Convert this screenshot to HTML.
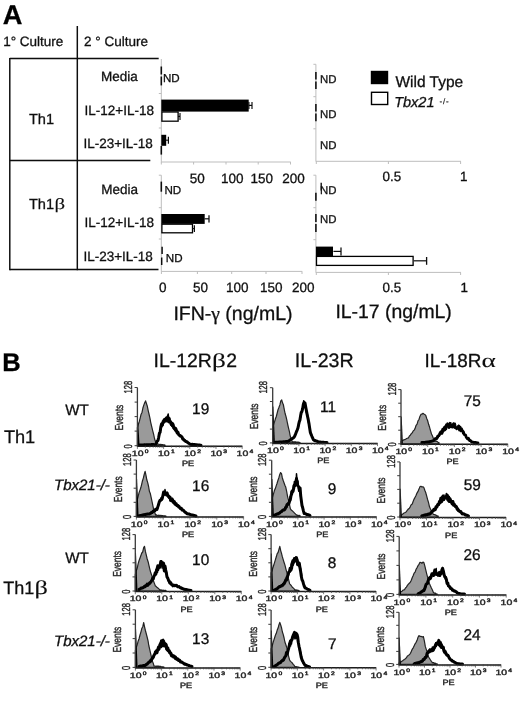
<!DOCTYPE html>
<html lang="en">
<head>
<meta charset="utf-8">
<title>Figure: Th1 and Th1β cytokine production and receptor expression</title>
<style>
html,body{margin:0;padding:0;background:#fff;}
body{width:520px;height:703px;overflow:hidden;}
svg{display:block;font-family:'Liberation Sans', sans-serif;}
.sm{letter-spacing:-0.2px;}
</style>
</head>
<body>
<svg width="520" height="703" viewBox="0 0 520 703" text-rendering="geometricPrecision">
<defs><filter id="soft" x="0" y="0" width="100%" height="100%" filterUnits="userSpaceOnUse"><feGaussianBlur stdDeviation="0.42"/></filter></defs>
<rect x="0" y="0" width="520" height="703" fill="#ffffff"/>
<g filter="url(#soft)">
<text x="2.8" y="24.3" font-size="27.2" fill="#000" stroke="#000" stroke-width="0.3" font-weight="bold">A</text>
<text x="3.2" y="46.0" font-size="13.5" fill="#111" stroke="#111" stroke-width="0.3" >1° Culture</text>
<text x="84.0" y="46.2" font-size="13.5" fill="#111" stroke="#111" stroke-width="0.3" >2 ° Culture</text>
<line x1="77.3" y1="26.0" x2="77.3" y2="270.2" stroke="#111" stroke-width="1.5" />
<line x1="9.8" y1="58.6" x2="158.7" y2="58.6" stroke="#111" stroke-width="1.5" />
<line x1="9.8" y1="58.0" x2="9.8" y2="270.2" stroke="#111" stroke-width="1.5" />
<line x1="9.8" y1="160.4" x2="150.3" y2="160.4" stroke="#111" stroke-width="1.5" />
<line x1="9.8" y1="269.6" x2="158.5" y2="269.6" stroke="#111" stroke-width="1.5" />
<text x="28.9" y="124.0" font-size="14.6" fill="#111" stroke="#111" stroke-width="0.3" >Th1</text>
<text x="28.9" y="209.3" font-size="14.6" fill="#111" stroke="#111" stroke-width="0.3" >Th1</text>
<text transform="translate(54.4,209.3) scale(1.35,1)" font-size="15.5" fill="#111" stroke="#111" stroke-width="0.1" font-family="'Liberation Serif', serif">β</text>
<text x="101.0" y="80.6" font-size="13.5" fill="#111" stroke="#111" stroke-width="0.3" >Media</text>
<text x="84.6" y="114.6" font-size="13.5" fill="#111" stroke="#111" stroke-width="0.3" >IL-12+IL-18</text>
<text x="83.4" y="148.2" font-size="13.5" fill="#111" stroke="#111" stroke-width="0.3" >IL-23+IL-18</text>
<text x="101.3" y="193.8" font-size="13.5" fill="#111" stroke="#111" stroke-width="0.3" >Media</text>
<text x="84.6" y="227.4" font-size="13.5" fill="#111" stroke="#111" stroke-width="0.3" >IL-12+IL-18</text>
<text x="83.4" y="261.4" font-size="13.5" fill="#111" stroke="#111" stroke-width="0.3" >IL-23+IL-18</text>
<line x1="161.3" y1="59.0" x2="161.3" y2="162.3" stroke="#bdbdbd" stroke-width="1" />
<line x1="161.3" y1="162.0" x2="290.8" y2="162.0" stroke="#bdbdbd" stroke-width="1" />
<line x1="161.3" y1="162.0" x2="161.3" y2="164.5" stroke="#bdbdbd" stroke-width="1" />
<line x1="193.6" y1="162.0" x2="193.6" y2="164.5" stroke="#bdbdbd" stroke-width="1" />
<line x1="226.0" y1="162.0" x2="226.0" y2="164.5" stroke="#bdbdbd" stroke-width="1" />
<line x1="258.2" y1="162.0" x2="258.2" y2="164.5" stroke="#bdbdbd" stroke-width="1" />
<line x1="290.5" y1="162.0" x2="290.5" y2="164.5" stroke="#bdbdbd" stroke-width="1" />
<line x1="158.8" y1="93.5" x2="161.3" y2="93.5" stroke="#bdbdbd" stroke-width="1" />
<line x1="158.8" y1="128.0" x2="161.3" y2="128.0" stroke="#bdbdbd" stroke-width="1" />
<line x1="161.3" y1="66.5" x2="161.3" y2="74.5" stroke="#111" stroke-width="1.6" />
<line x1="161.3" y1="76.5" x2="161.3" y2="85.4" stroke="#111" stroke-width="1.6" />
<text x="163.0" y="81.6" font-size="11.6" fill="#111" stroke="#111" stroke-width="0.3" >ND</text>
<rect x="161.3" y="99.6" width="87.4" height="12.0" fill="#000" stroke="none" stroke-width="0"/>
<line x1="248.7" y1="105.4" x2="252.0" y2="105.4" stroke="#111" stroke-width="1.2" />
<line x1="248.9" y1="102.0" x2="248.9" y2="109.0" stroke="#111" stroke-width="1.2" />
<line x1="252.0" y1="102.0" x2="252.0" y2="109.0" stroke="#111" stroke-width="1.2" />
<rect x="161.9" y="112.0" width="16.2" height="9.2" fill="#fff" stroke="#000" stroke-width="1.3"/>
<line x1="178.0" y1="116.4" x2="180.0" y2="116.4" stroke="#111" stroke-width="1.1" />
<line x1="180.0" y1="113.0" x2="180.0" y2="120.0" stroke="#111" stroke-width="1.2" />
<rect x="161.3" y="134.8" width="4.9" height="11.0" fill="#000" stroke="none" stroke-width="0"/>
<line x1="166.0" y1="140.2" x2="168.4" y2="140.2" stroke="#111" stroke-width="1.1" />
<line x1="168.4" y1="136.8" x2="168.4" y2="143.8" stroke="#111" stroke-width="1.2" />
<line x1="161.3" y1="146.0" x2="161.3" y2="154.6" stroke="#111" stroke-width="1.6" />
<text x="189.7" y="183.0" font-size="13.5" fill="#111" stroke="#111" stroke-width="0.3" >50</text>
<text x="221.1" y="183.0" font-size="13.5" fill="#111" stroke="#111" stroke-width="0.3" >100</text>
<text x="250.5" y="183.0" font-size="13.5" fill="#111" stroke="#111" stroke-width="0.3" >150</text>
<text x="282.3" y="183.0" font-size="13.5" fill="#111" stroke="#111" stroke-width="0.3" >200</text>
<line x1="161.3" y1="175.2" x2="161.3" y2="271.5" stroke="#bdbdbd" stroke-width="1" />
<line x1="161.3" y1="271.4" x2="302.2" y2="271.4" stroke="#bdbdbd" stroke-width="1" />
<line x1="161.4" y1="271.4" x2="161.4" y2="274.0" stroke="#bdbdbd" stroke-width="1" />
<line x1="197.4" y1="271.4" x2="197.4" y2="274.0" stroke="#bdbdbd" stroke-width="1" />
<line x1="231.7" y1="271.4" x2="231.7" y2="274.0" stroke="#bdbdbd" stroke-width="1" />
<line x1="266.0" y1="271.4" x2="266.0" y2="274.0" stroke="#bdbdbd" stroke-width="1" />
<line x1="302.0" y1="271.4" x2="302.0" y2="274.0" stroke="#bdbdbd" stroke-width="1" />
<line x1="158.8" y1="175.2" x2="161.3" y2="175.2" stroke="#bdbdbd" stroke-width="1" />
<line x1="158.8" y1="207.7" x2="161.3" y2="207.7" stroke="#bdbdbd" stroke-width="1" />
<line x1="158.8" y1="239.0" x2="161.3" y2="239.0" stroke="#bdbdbd" stroke-width="1" />
<line x1="161.3" y1="181.6" x2="161.3" y2="191.7" stroke="#111" stroke-width="1.6" />
<text x="164.4" y="194.3" font-size="11.6" fill="#111" stroke="#111" stroke-width="0.3" >ND</text>
<rect x="161.3" y="214.0" width="43.4" height="9.9" fill="#000" stroke="none" stroke-width="0"/>
<line x1="204.6" y1="218.8" x2="209.0" y2="218.8" stroke="#111" stroke-width="1.2" />
<line x1="209.0" y1="215.2" x2="209.0" y2="222.4" stroke="#111" stroke-width="1.3" />
<rect x="161.9" y="224.2" width="30.6" height="8.6" fill="#fff" stroke="#000" stroke-width="1.3"/>
<line x1="192.5" y1="228.6" x2="194.4" y2="228.6" stroke="#111" stroke-width="1.1" />
<line x1="194.4" y1="225.2" x2="194.4" y2="232.0" stroke="#111" stroke-width="1.2" />
<line x1="162.1" y1="246.8" x2="162.1" y2="254.0" stroke="#111" stroke-width="1.5" />
<line x1="161.7" y1="257.5" x2="161.7" y2="265.0" stroke="#111" stroke-width="1.5" />
<text x="165.8" y="261.7" font-size="11.6" fill="#111" stroke="#111" stroke-width="0.3" >ND</text>
<text x="158.9" y="292.4" font-size="13.5" fill="#111" stroke="#111" stroke-width="0.3" >0</text>
<text x="192.9" y="292.4" font-size="13.5" fill="#111" stroke="#111" stroke-width="0.3" >50</text>
<text x="225.9" y="292.4" font-size="13.5" fill="#111" stroke="#111" stroke-width="0.3" >100</text>
<text x="260.1" y="292.4" font-size="13.5" fill="#111" stroke="#111" stroke-width="0.3" >150</text>
<text x="292.1" y="292.4" font-size="13.5" fill="#111" stroke="#111" stroke-width="0.3" >200</text>
<text x="173.4" y="319.7" font-size="19.5" fill="#111" stroke="#111" stroke-width="0.3" >IFN-<tspan font-family='&quot;Liberation Serif&quot;, serif'>γ</tspan> (ng/mL)</text>
<line x1="315.9" y1="64.3" x2="315.9" y2="161.5" stroke="#bdbdbd" stroke-width="1" />
<line x1="313.4" y1="64.3" x2="315.9" y2="64.3" stroke="#bdbdbd" stroke-width="1" />
<line x1="315.9" y1="161.3" x2="461.0" y2="161.3" stroke="#bdbdbd" stroke-width="1" />
<line x1="316.3" y1="161.3" x2="316.3" y2="164.0" stroke="#bdbdbd" stroke-width="1" />
<line x1="388.4" y1="161.3" x2="388.4" y2="164.0" stroke="#bdbdbd" stroke-width="1" />
<line x1="460.6" y1="161.3" x2="460.6" y2="164.0" stroke="#bdbdbd" stroke-width="1" />
<line x1="313.4" y1="96.7" x2="315.9" y2="96.7" stroke="#bdbdbd" stroke-width="1" />
<line x1="313.4" y1="128.8" x2="315.9" y2="128.8" stroke="#bdbdbd" stroke-width="1" />
<line x1="315.9" y1="72.0" x2="315.9" y2="79.6" stroke="#111" stroke-width="1.6" />
<line x1="315.9" y1="81.4" x2="315.9" y2="89.0" stroke="#111" stroke-width="1.6" />
<text x="320.0" y="83.4" font-size="11.4" fill="#111" stroke="#111" stroke-width="0.3" >ND</text>
<line x1="315.9" y1="104.0" x2="315.9" y2="111.6" stroke="#111" stroke-width="1.6" />
<line x1="315.9" y1="113.6" x2="315.9" y2="121.2" stroke="#111" stroke-width="1.6" />
<text x="320.0" y="118.3" font-size="11.4" fill="#111" stroke="#111" stroke-width="0.3" >ND</text>
<text x="320.0" y="148.8" font-size="11.4" fill="#111" stroke="#111" stroke-width="0.3" >ND</text>
<text x="382.6" y="181.0" font-size="13.4" fill="#111" stroke="#111" stroke-width="0.3" >0.5</text>
<text x="460.0" y="181.0" font-size="13.4" fill="#111" stroke="#111" stroke-width="0.3" >1</text>
<rect x="370.8" y="70.8" width="17.4" height="13.4" fill="#000" stroke="none" stroke-width="0"/>
<rect x="371.5" y="92.3" width="16.2" height="12.2" fill="#fff" stroke="#000" stroke-width="1.4"/>
<text x="395.4" y="86.6" font-size="15.5" fill="#111" stroke="#111" stroke-width="0.3" >Wild Type</text>
<text x="394.2" y="106.8" font-size="14.5" fill="#111" stroke="#111" stroke-width="0.3" font-style="italic">Tbx21</text>
<text x="439.4" y="104.0" font-size="8" fill="#111" stroke="#111" stroke-width="0.15" letter-spacing="0.9">-/-</text>
<line x1="315.9" y1="175.2" x2="315.9" y2="272.6" stroke="#bdbdbd" stroke-width="1" />
<line x1="315.9" y1="272.4" x2="461.0" y2="272.4" stroke="#bdbdbd" stroke-width="1" />
<line x1="316.3" y1="272.4" x2="316.3" y2="275.0" stroke="#bdbdbd" stroke-width="1" />
<line x1="388.4" y1="272.4" x2="388.4" y2="275.0" stroke="#bdbdbd" stroke-width="1" />
<line x1="460.6" y1="272.4" x2="460.6" y2="275.0" stroke="#bdbdbd" stroke-width="1" />
<line x1="313.4" y1="175.2" x2="315.9" y2="175.2" stroke="#bdbdbd" stroke-width="1" />
<line x1="313.4" y1="207.7" x2="315.9" y2="207.7" stroke="#bdbdbd" stroke-width="1" />
<line x1="313.4" y1="239.7" x2="315.9" y2="239.7" stroke="#bdbdbd" stroke-width="1" />
<line x1="321.2" y1="182.8" x2="321.2" y2="190.4" stroke="#111" stroke-width="1.4" />
<line x1="315.9" y1="192.7" x2="315.9" y2="200.8" stroke="#111" stroke-width="1.6" />
<text x="320.0" y="194.1" font-size="11.4" fill="#111" stroke="#111" stroke-width="0.3" >ND</text>
<line x1="315.9" y1="214.0" x2="315.9" y2="222.0" stroke="#111" stroke-width="1.6" />
<line x1="315.9" y1="224.0" x2="315.9" y2="232.0" stroke="#111" stroke-width="1.6" />
<text x="320.0" y="222.8" font-size="11.4" fill="#111" stroke="#111" stroke-width="0.3" >ND</text>
<rect x="315.9" y="246.6" width="17.1" height="9.4" fill="#000" stroke="none" stroke-width="0"/>
<line x1="333.4" y1="251.4" x2="341.0" y2="251.4" stroke="#111" stroke-width="1.2" />
<line x1="341.0" y1="247.6" x2="341.0" y2="255.6" stroke="#111" stroke-width="1.3" />
<rect x="316.5" y="256.4" width="96.6" height="9.0" fill="#fff" stroke="#000" stroke-width="1.3"/>
<line x1="413.5" y1="260.8" x2="426.6" y2="260.8" stroke="#111" stroke-width="1.2" />
<line x1="426.6" y1="257.0" x2="426.6" y2="264.8" stroke="#111" stroke-width="1.3" />
<text x="382.6" y="292.2" font-size="13.4" fill="#111" stroke="#111" stroke-width="0.3" >0.5</text>
<text x="460.6" y="292.2" font-size="13.4" fill="#111" stroke="#111" stroke-width="0.3" >1</text>
<text x="335.4" y="318.4" font-size="19.4" fill="#111" stroke="#111" stroke-width="0.3" >IL-17 (ng/mL)</text>
<text x="2.2" y="371.2" font-size="25.5" fill="#000" stroke="#000" stroke-width="0.3" font-weight="bold">B</text>
<text x="153.5" y="367.3" font-size="19.4" fill="#111" stroke="#111" stroke-width="0.3" >IL-12R</text>
<text transform="translate(212.0,367.3) scale(1.4,1)" font-size="19.5" fill="#111" stroke="#111" stroke-width="0.1" font-family="'Liberation Serif', serif">β</text>
<text x="226.2" y="367.3" font-size="19.4" fill="#111" stroke="#111" stroke-width="0.3" >2</text>
<text x="294.8" y="367.0" font-size="19.6" fill="#111" stroke="#111" stroke-width="0.3" >IL-23R</text>
<text x="424.6" y="366.6" font-size="18.9" fill="#111" stroke="#111" stroke-width="0.3" >IL-18R</text>
<text transform="translate(481.5,366.6) scale(1.4,1)" font-size="19.5" fill="#111" stroke="#111" stroke-width="0.1" font-family="'Liberation Serif', serif">α</text>
<text x="3.9" y="443.0" font-size="18.2" fill="#111" stroke="#111" stroke-width="0.3" >Th1</text>
<text x="3.3" y="593.8" font-size="18.0" fill="#111" stroke="#111" stroke-width="0.3" >Th1</text>
<text transform="translate(34.6,593.8) scale(1.35,1)" font-size="19.5" fill="#111" stroke="#111" stroke-width="0.1" font-family="'Liberation Serif', serif">β</text>
<text x="65.2" y="415.0" font-size="15.2" fill="#111" stroke="#111" stroke-width="0.3" >WT</text>
<text x="65.2" y="563.0" font-size="15.2" fill="#111" stroke="#111" stroke-width="0.3" >WT</text>
<text x="54.0" y="490.0" font-size="15" fill="#111" stroke="#111" stroke-width="0.3" font-style="italic">Tbx21-/-</text>
<text x="54.0" y="646.0" font-size="15" fill="#111" stroke="#111" stroke-width="0.3" font-style="italic">Tbx21-/-</text>
<path d="M137.4,445.7 L137.4,427.6 L138.3,424.5 L139.2,421.9 L140.1,418.3 L141.0,414.6 L142.0,412.4 L142.9,408.0 L143.8,405.1 L144.7,402.8 L145.6,400.9 L146.5,403.7 L147.3,406.1 L148.2,410.6 L149.0,414.0 L149.9,417.8 L150.7,422.3 L151.6,426.1 L152.6,430.3 L153.6,434.2 L154.6,439.0 L155.5,441.5 L156.4,443.8 L157.3,443.8 L158.1,444.2 L159.0,444.3 L159.8,444.6 L160.7,444.3 L161.6,444.6 L162.4,444.7 L163.3,444.9 L164.1,444.8 L165.0,445.0 L165.0,445.7 Z" fill="#9a9a9a" stroke="#222" stroke-width="1.2" stroke-linejoin="round"/>
<path d="M140.0,444.9 L140.7,445.0 L141.4,445.0 L142.1,445.0 L142.8,444.9 L143.5,444.9 L144.2,444.8 L144.9,444.8 L145.6,444.9 L146.3,444.8 L147.0,444.8 L147.7,444.8 L148.4,444.7 L149.1,444.8 L149.8,444.7 L150.5,444.8 L151.2,444.6 L151.9,444.7 L152.6,444.6 L153.3,444.6 L154.0,444.7 L154.7,444.7 L155.4,444.6 L156.1,443.6 L156.7,442.1 L157.3,441.1 L158.0,440.4 L158.7,437.2 L159.4,433.2 L160.1,432.3 L160.8,427.1 L161.5,424.1 L162.2,425.3 L162.9,422.7 L163.6,421.8 L164.3,420.0 L165.0,419.2 L165.7,420.5 L166.3,418.1 L167.0,418.9 L167.7,417.0 L168.5,418.5 L169.2,422.0 L170.0,420.9 L170.8,422.5 L171.5,424.8 L172.3,423.3 L173.0,424.3 L173.7,428.0 L174.4,428.7 L175.2,428.0 L175.9,428.9 L176.6,431.5 L177.3,433.0 L178.0,432.3 L178.7,434.7 L179.3,435.3 L180.0,435.5 L180.7,436.0 L181.3,436.3 L182.0,437.0 L182.7,439.0 L183.3,438.9 L184.0,440.2 L184.7,440.2 L185.3,441.2 L186.0,441.5 L186.7,441.7 L187.3,442.1 L188.0,442.9 L188.7,443.1 L189.3,443.6 L190.0,444.2 L190.7,444.4 L191.4,444.4 L192.1,444.3 L192.8,444.5 L193.4,444.4 L194.1,444.5 L194.8,444.6 L195.5,444.7 L196.2,444.7 L196.9,444.8 L197.6,444.9 L198.2,445.0 L198.9,445.0 L199.6,445.1 L200.3,445.2 L201.0,445.2" fill="none" stroke="#000" stroke-width="3.0" stroke-linejoin="round" stroke-linecap="round"/>
<path d="M140.0,445.0 L140.5,445.0 L141.0,445.0 L141.5,444.9 L142.0,444.8 L142.5,444.8 L143.0,445.0 L143.5,445.0 L144.0,445.0 L144.5,444.8 L145.0,444.9 L145.5,444.9 L146.0,444.9 L146.5,444.8 L147.0,445.0 L147.5,444.7 L147.9,444.8 L148.4,444.9 L148.9,444.9 L149.4,444.8 L149.9,444.8 L150.4,444.8 L150.9,444.8 L151.4,444.7 L151.9,444.8 L152.4,444.8 L152.9,444.8 L153.4,444.6 L153.9,444.7 L154.4,444.8 L154.9,444.6 L155.4,444.6 L155.9,443.6 L156.4,442.8 L157.0,442.0 L157.5,440.3 L158.0,440.3 L158.5,439.1 L159.0,436.9 L159.5,434.5 L160.0,430.9 L160.5,430.5 L161.0,427.6 L161.5,424.6 L162.0,426.7 L162.5,420.9 L163.0,425.1 L163.5,419.3 L164.0,422.9 L164.5,421.4 L165.0,418.9 L165.5,421.9 L166.1,419.6 L166.6,419.9 L167.2,422.0 L167.7,415.4 L168.2,414.0 L168.6,417.3 L169.1,421.1 L169.5,417.9 L170.0,418.4 L170.5,424.8 L170.9,423.6 L171.4,422.7 L171.8,426.5 L172.3,423.3 L172.8,426.4 L173.3,424.1 L173.9,426.4 L174.4,429.4 L174.9,430.7 L175.4,431.2 L175.9,429.3 L176.4,431.1 L177.0,430.6 L177.5,430.7 L178.0,433.0 L178.5,434.9 L179.0,435.5 L179.5,435.5 L180.0,436.8 L180.5,435.2 L181.0,435.5 L181.5,436.9 L182.0,437.1 L182.5,437.6 L183.0,438.6 L183.5,439.7 L184.0,440.0 L184.5,440.0 L185.0,441.2 L185.5,441.8 L186.0,441.3 L186.5,441.2 L187.0,441.6 L187.5,442.8 L188.0,442.4 L188.5,443.3 L189.0,443.5 L189.5,443.7 L190.0,444.3 L190.5,444.0 L191.0,444.1 L191.5,444.3 L192.0,444.2 L192.5,444.6 L193.0,444.4 L193.5,444.4 L194.0,444.4 L194.5,444.7 L195.0,444.6 L195.5,444.7 L196.0,444.8 L196.5,444.9 L197.0,445.0 L197.5,444.9 L198.0,444.9 L198.5,445.0 L199.0,444.9 L199.5,445.0 L200.0,445.1 L200.5,445.2 L201.0,445.1" fill="none" stroke="#000" stroke-width="1.5" stroke-linejoin="round" stroke-linecap="round"/>
<path d="M137.2,421.5 L138.1,421.5 L139.6,445.7 L137.2,445.7 Z" fill="#000"/>
<line x1="137.4" y1="387.5" x2="137.4" y2="446.3" stroke="#3a3a3a" stroke-width="1.3" />
<line x1="136.9" y1="446.2" x2="242.2" y2="446.2" stroke="#1c1c1c" stroke-width="1.5" />
<line x1="134.6" y1="387.5" x2="137.4" y2="387.5" stroke="#3a3a3a" stroke-width="1.0" />
<line x1="134.6" y1="402.1" x2="137.4" y2="402.1" stroke="#3a3a3a" stroke-width="1.0" />
<line x1="134.6" y1="416.6" x2="137.4" y2="416.6" stroke="#3a3a3a" stroke-width="1.0" />
<line x1="134.6" y1="431.1" x2="137.4" y2="431.1" stroke="#3a3a3a" stroke-width="1.0" />
<line x1="134.6" y1="445.7" x2="137.4" y2="445.7" stroke="#3a3a3a" stroke-width="1.0" />
<line x1="137.4" y1="445.7" x2="137.4" y2="448.9" stroke="#444" stroke-width="0.7" />
<line x1="145.3" y1="445.7" x2="145.3" y2="447.7" stroke="#444" stroke-width="0.7" />
<line x1="149.9" y1="445.7" x2="149.9" y2="447.7" stroke="#444" stroke-width="0.7" />
<line x1="153.2" y1="445.7" x2="153.2" y2="447.7" stroke="#444" stroke-width="0.7" />
<line x1="155.7" y1="445.7" x2="155.7" y2="447.7" stroke="#444" stroke-width="0.7" />
<line x1="157.8" y1="445.7" x2="157.8" y2="447.7" stroke="#444" stroke-width="0.7" />
<line x1="159.5" y1="445.7" x2="159.5" y2="447.7" stroke="#444" stroke-width="0.7" />
<line x1="161.1" y1="445.7" x2="161.1" y2="447.7" stroke="#444" stroke-width="0.7" />
<line x1="162.4" y1="445.7" x2="162.4" y2="447.7" stroke="#444" stroke-width="0.7" />
<line x1="163.6" y1="445.7" x2="163.6" y2="448.9" stroke="#444" stroke-width="0.7" />
<line x1="171.5" y1="445.7" x2="171.5" y2="447.7" stroke="#444" stroke-width="0.7" />
<line x1="176.1" y1="445.7" x2="176.1" y2="447.7" stroke="#444" stroke-width="0.7" />
<line x1="179.4" y1="445.7" x2="179.4" y2="447.7" stroke="#444" stroke-width="0.7" />
<line x1="181.9" y1="445.7" x2="181.9" y2="447.7" stroke="#444" stroke-width="0.7" />
<line x1="184.0" y1="445.7" x2="184.0" y2="447.7" stroke="#444" stroke-width="0.7" />
<line x1="185.7" y1="445.7" x2="185.7" y2="447.7" stroke="#444" stroke-width="0.7" />
<line x1="187.3" y1="445.7" x2="187.3" y2="447.7" stroke="#444" stroke-width="0.7" />
<line x1="188.6" y1="445.7" x2="188.6" y2="447.7" stroke="#444" stroke-width="0.7" />
<line x1="189.8" y1="445.7" x2="189.8" y2="448.9" stroke="#444" stroke-width="0.7" />
<line x1="197.7" y1="445.7" x2="197.7" y2="447.7" stroke="#444" stroke-width="0.7" />
<line x1="202.3" y1="445.7" x2="202.3" y2="447.7" stroke="#444" stroke-width="0.7" />
<line x1="205.6" y1="445.7" x2="205.6" y2="447.7" stroke="#444" stroke-width="0.7" />
<line x1="208.1" y1="445.7" x2="208.1" y2="447.7" stroke="#444" stroke-width="0.7" />
<line x1="210.2" y1="445.7" x2="210.2" y2="447.7" stroke="#444" stroke-width="0.7" />
<line x1="211.9" y1="445.7" x2="211.9" y2="447.7" stroke="#444" stroke-width="0.7" />
<line x1="213.5" y1="445.7" x2="213.5" y2="447.7" stroke="#444" stroke-width="0.7" />
<line x1="214.8" y1="445.7" x2="214.8" y2="447.7" stroke="#444" stroke-width="0.7" />
<line x1="216.0" y1="445.7" x2="216.0" y2="448.9" stroke="#444" stroke-width="0.7" />
<line x1="223.9" y1="445.7" x2="223.9" y2="447.7" stroke="#444" stroke-width="0.7" />
<line x1="228.5" y1="445.7" x2="228.5" y2="447.7" stroke="#444" stroke-width="0.7" />
<line x1="231.8" y1="445.7" x2="231.8" y2="447.7" stroke="#444" stroke-width="0.7" />
<line x1="234.3" y1="445.7" x2="234.3" y2="447.7" stroke="#444" stroke-width="0.7" />
<line x1="236.4" y1="445.7" x2="236.4" y2="447.7" stroke="#444" stroke-width="0.7" />
<line x1="238.1" y1="445.7" x2="238.1" y2="447.7" stroke="#444" stroke-width="0.7" />
<line x1="239.7" y1="445.7" x2="239.7" y2="447.7" stroke="#444" stroke-width="0.7" />
<line x1="241.0" y1="445.7" x2="241.0" y2="447.7" stroke="#444" stroke-width="0.7" />
<line x1="242.2" y1="445.7" x2="242.2" y2="448.9" stroke="#444" stroke-width="0.7" />
<text transform="translate(131.8,455.9) scale(1.35,1)" font-size="7.8" fill="#262626" stroke="#262626" stroke-width="0.4">10<tspan dx="0.9" dy="-2.7" font-size="5.0">0</tspan></text>
<text transform="translate(158.0,455.9) scale(1.35,1)" font-size="7.8" fill="#262626" stroke="#262626" stroke-width="0.4">10<tspan dx="0.9" dy="-2.7" font-size="5.0">1</tspan></text>
<text transform="translate(184.2,455.9) scale(1.35,1)" font-size="7.8" fill="#262626" stroke="#262626" stroke-width="0.4">10<tspan dx="0.9" dy="-2.7" font-size="5.0">2</tspan></text>
<text transform="translate(210.4,455.9) scale(1.35,1)" font-size="7.8" fill="#262626" stroke="#262626" stroke-width="0.4">10<tspan dx="0.9" dy="-2.7" font-size="5.0">3</tspan></text>
<text transform="translate(236.6,455.9) scale(1.35,1)" font-size="7.8" fill="#262626" stroke="#262626" stroke-width="0.4">10<tspan dx="0.9" dy="-2.7" font-size="5.0">4</tspan></text>
<text transform="translate(181.9,466.2) scale(1.2,1)" font-size="7.6" fill="#262626" stroke="#262626" stroke-width="0.4">PE</text>
<text transform="translate(132.1,393.4) rotate(-90) scale(0.66,1)" font-size="11.5" fill="#262626" stroke="#262626" stroke-width="0.4">128</text>
<text transform="translate(132.1,448.4) rotate(-90) scale(0.66,1)" font-size="11.5" fill="#262626" stroke="#262626" stroke-width="0.4">0</text>
<text transform="translate(122.8,430.6) rotate(-90) scale(0.73,1)" font-size="11.6" fill="#262626" stroke="#262626" stroke-width="0.4">Events</text>
<text x="192.1" y="413.9" font-size="15.4" fill="#111" stroke="#111" stroke-width="0.3" >19</text>
<path d="M136.4,516.4 L136.4,502.7 L137.3,499.7 L138.1,496.6 L139.0,492.9 L139.9,490.4 L140.8,487.8 L141.6,484.6 L142.5,480.7 L143.4,477.9 L144.2,474.5 L145.1,471.4 L146.0,475.4 L146.8,479.8 L147.7,482.6 L148.6,486.5 L149.4,491.3 L150.3,493.5 L151.2,497.6 L152.1,501.9 L152.9,505.8 L153.8,510.1 L154.7,512.4 L155.6,515.0 L156.5,514.8 L157.3,515.5 L158.2,515.4 L159.1,515.2 L159.9,515.5 L160.8,515.3 L161.7,515.6 L162.5,515.7 L163.4,515.9 L164.3,515.8 L165.1,515.9 L166.0,516.0 L166.0,516.4 Z" fill="#9a9a9a" stroke="#222" stroke-width="1.2" stroke-linejoin="round"/>
<path d="M139.0,515.8 L139.7,515.7 L140.4,515.5 L141.1,515.4 L141.8,515.2 L142.4,515.2 L143.1,514.8 L143.8,514.8 L144.5,514.6 L145.2,514.6 L145.9,514.2 L146.6,514.3 L147.2,514.0 L147.9,513.9 L148.6,513.9 L149.3,514.0 L150.0,513.6 L150.7,513.4 L151.4,512.4 L152.1,512.6 L152.8,511.6 L153.5,511.0 L154.2,511.1 L154.9,510.9 L155.6,509.3 L156.3,509.1 L157.0,509.4 L157.8,506.9 L158.5,504.8 L159.2,502.2 L160.0,500.3 L160.8,500.2 L161.5,499.8 L162.2,498.7 L162.9,495.5 L163.6,492.0 L164.3,492.0 L165.0,493.0 L165.7,494.1 L166.4,494.1 L167.1,493.1 L167.9,495.4 L168.6,496.1 L169.3,497.6 L170.0,497.1 L170.7,500.3 L171.4,500.8 L172.1,499.0 L172.8,500.2 L173.5,502.7 L174.2,501.6 L174.9,504.2 L175.6,503.7 L176.3,504.9 L177.0,505.6 L177.7,505.2 L178.4,506.0 L179.1,506.5 L179.8,507.9 L180.6,508.5 L181.3,508.2 L182.0,509.9 L182.7,509.8 L183.4,510.2 L184.1,511.1 L184.9,512.2 L185.6,512.4 L186.3,513.0 L187.0,513.7 L187.7,513.9 L188.4,514.0 L189.1,514.0 L189.8,514.3 L190.5,514.6 L191.2,514.8 L191.8,514.9 L192.5,515.0 L193.2,515.2 L193.9,515.5 L194.6,515.6 L195.3,515.8 L196.0,516.0" fill="none" stroke="#000" stroke-width="3.0" stroke-linejoin="round" stroke-linecap="round"/>
<path d="M139.0,515.9 L139.5,515.8 L140.0,515.7 L140.5,515.6 L141.0,515.4 L141.5,515.4 L142.0,515.2 L142.5,514.9 L143.0,514.9 L143.5,514.8 L144.0,515.0 L144.5,514.8 L145.0,514.6 L145.5,514.6 L146.0,514.2 L146.5,514.3 L147.0,514.3 L147.5,514.0 L148.0,513.8 L148.5,513.8 L149.0,513.7 L149.5,513.9 L150.0,513.3 L150.5,512.9 L151.0,512.7 L151.5,512.9 L152.0,512.6 L152.5,512.2 L153.0,512.3 L153.5,511.1 L154.0,510.2 L154.5,510.6 L155.0,510.2 L155.5,509.3 L156.0,510.0 L156.5,509.0 L157.0,508.4 L157.5,507.3 L158.0,508.0 L158.5,503.6 L159.0,503.6 L159.5,501.9 L160.0,500.3 L160.5,500.1 L161.0,497.7 L161.5,500.5 L162.0,497.1 L162.5,497.5 L163.0,493.0 L163.5,494.1 L164.0,494.2 L164.5,495.1 L165.0,489.6 L165.5,491.9 L166.0,495.6 L166.5,495.9 L167.0,492.2 L167.5,495.1 L168.0,497.2 L168.5,495.4 L169.0,497.8 L169.5,498.4 L170.0,500.8 L170.5,498.8 L171.0,500.0 L171.5,498.8 L172.1,501.3 L172.6,499.7 L173.1,501.1 L173.6,501.0 L174.1,501.3 L174.6,501.1 L175.1,502.0 L175.6,503.9 L176.2,503.3 L176.7,503.1 L177.2,506.4 L177.7,505.1 L178.2,507.6 L178.7,506.9 L179.2,506.7 L179.7,508.5 L180.1,508.9 L180.6,507.8 L181.1,507.7 L181.6,509.4 L182.1,510.2 L182.6,510.1 L183.1,510.8 L183.6,510.5 L184.1,511.3 L184.6,511.1 L185.0,511.7 L185.5,512.1 L186.0,512.6 L186.5,513.0 L187.0,513.8 L187.5,513.3 L188.0,513.5 L188.5,513.7 L189.0,514.4 L189.5,514.2 L190.0,514.0 L190.5,514.7 L191.0,514.8 L191.5,514.9 L192.0,514.8 L192.5,515.1 L193.0,515.1 L193.5,515.2 L194.0,515.6 L194.5,515.7 L195.0,515.7 L195.5,515.9 L196.0,515.9" fill="none" stroke="#000" stroke-width="1.5" stroke-linejoin="round" stroke-linecap="round"/>
<path d="M136.2,479.0 L137.1,479.0 L138.6,516.4 L136.2,516.4 Z" fill="#000"/>
<line x1="136.4" y1="460.0" x2="136.4" y2="517.0" stroke="#3a3a3a" stroke-width="1.3" />
<line x1="135.9" y1="516.9" x2="243.6" y2="516.9" stroke="#1c1c1c" stroke-width="1.5" />
<line x1="133.6" y1="460.0" x2="136.4" y2="460.0" stroke="#3a3a3a" stroke-width="1.0" />
<line x1="133.6" y1="474.1" x2="136.4" y2="474.1" stroke="#3a3a3a" stroke-width="1.0" />
<line x1="133.6" y1="488.2" x2="136.4" y2="488.2" stroke="#3a3a3a" stroke-width="1.0" />
<line x1="133.6" y1="502.3" x2="136.4" y2="502.3" stroke="#3a3a3a" stroke-width="1.0" />
<line x1="133.6" y1="516.4" x2="136.4" y2="516.4" stroke="#3a3a3a" stroke-width="1.0" />
<line x1="136.4" y1="516.4" x2="136.4" y2="519.6" stroke="#444" stroke-width="0.7" />
<line x1="144.5" y1="516.4" x2="144.5" y2="518.4" stroke="#444" stroke-width="0.7" />
<line x1="149.2" y1="516.4" x2="149.2" y2="518.4" stroke="#444" stroke-width="0.7" />
<line x1="152.5" y1="516.4" x2="152.5" y2="518.4" stroke="#444" stroke-width="0.7" />
<line x1="155.1" y1="516.4" x2="155.1" y2="518.4" stroke="#444" stroke-width="0.7" />
<line x1="157.3" y1="516.4" x2="157.3" y2="518.4" stroke="#444" stroke-width="0.7" />
<line x1="159.0" y1="516.4" x2="159.0" y2="518.4" stroke="#444" stroke-width="0.7" />
<line x1="160.6" y1="516.4" x2="160.6" y2="518.4" stroke="#444" stroke-width="0.7" />
<line x1="162.0" y1="516.4" x2="162.0" y2="518.4" stroke="#444" stroke-width="0.7" />
<line x1="163.2" y1="516.4" x2="163.2" y2="519.6" stroke="#444" stroke-width="0.7" />
<line x1="171.3" y1="516.4" x2="171.3" y2="518.4" stroke="#444" stroke-width="0.7" />
<line x1="176.0" y1="516.4" x2="176.0" y2="518.4" stroke="#444" stroke-width="0.7" />
<line x1="179.3" y1="516.4" x2="179.3" y2="518.4" stroke="#444" stroke-width="0.7" />
<line x1="181.9" y1="516.4" x2="181.9" y2="518.4" stroke="#444" stroke-width="0.7" />
<line x1="184.1" y1="516.4" x2="184.1" y2="518.4" stroke="#444" stroke-width="0.7" />
<line x1="185.8" y1="516.4" x2="185.8" y2="518.4" stroke="#444" stroke-width="0.7" />
<line x1="187.4" y1="516.4" x2="187.4" y2="518.4" stroke="#444" stroke-width="0.7" />
<line x1="188.8" y1="516.4" x2="188.8" y2="518.4" stroke="#444" stroke-width="0.7" />
<line x1="190.0" y1="516.4" x2="190.0" y2="519.6" stroke="#444" stroke-width="0.7" />
<line x1="198.1" y1="516.4" x2="198.1" y2="518.4" stroke="#444" stroke-width="0.7" />
<line x1="202.8" y1="516.4" x2="202.8" y2="518.4" stroke="#444" stroke-width="0.7" />
<line x1="206.1" y1="516.4" x2="206.1" y2="518.4" stroke="#444" stroke-width="0.7" />
<line x1="208.7" y1="516.4" x2="208.7" y2="518.4" stroke="#444" stroke-width="0.7" />
<line x1="210.9" y1="516.4" x2="210.9" y2="518.4" stroke="#444" stroke-width="0.7" />
<line x1="212.6" y1="516.4" x2="212.6" y2="518.4" stroke="#444" stroke-width="0.7" />
<line x1="214.2" y1="516.4" x2="214.2" y2="518.4" stroke="#444" stroke-width="0.7" />
<line x1="215.6" y1="516.4" x2="215.6" y2="518.4" stroke="#444" stroke-width="0.7" />
<line x1="216.8" y1="516.4" x2="216.8" y2="519.6" stroke="#444" stroke-width="0.7" />
<line x1="224.9" y1="516.4" x2="224.9" y2="518.4" stroke="#444" stroke-width="0.7" />
<line x1="229.6" y1="516.4" x2="229.6" y2="518.4" stroke="#444" stroke-width="0.7" />
<line x1="232.9" y1="516.4" x2="232.9" y2="518.4" stroke="#444" stroke-width="0.7" />
<line x1="235.5" y1="516.4" x2="235.5" y2="518.4" stroke="#444" stroke-width="0.7" />
<line x1="237.7" y1="516.4" x2="237.7" y2="518.4" stroke="#444" stroke-width="0.7" />
<line x1="239.4" y1="516.4" x2="239.4" y2="518.4" stroke="#444" stroke-width="0.7" />
<line x1="241.0" y1="516.4" x2="241.0" y2="518.4" stroke="#444" stroke-width="0.7" />
<line x1="242.4" y1="516.4" x2="242.4" y2="518.4" stroke="#444" stroke-width="0.7" />
<line x1="243.6" y1="516.4" x2="243.6" y2="519.6" stroke="#444" stroke-width="0.7" />
<text transform="translate(130.8,526.6) scale(1.35,1)" font-size="7.8" fill="#262626" stroke="#262626" stroke-width="0.4">10<tspan dx="0.9" dy="-2.7" font-size="5.0">0</tspan></text>
<text transform="translate(157.6,526.6) scale(1.35,1)" font-size="7.8" fill="#262626" stroke="#262626" stroke-width="0.4">10<tspan dx="0.9" dy="-2.7" font-size="5.0">1</tspan></text>
<text transform="translate(184.4,526.6) scale(1.35,1)" font-size="7.8" fill="#262626" stroke="#262626" stroke-width="0.4">10<tspan dx="0.9" dy="-2.7" font-size="5.0">2</tspan></text>
<text transform="translate(211.2,526.6) scale(1.35,1)" font-size="7.8" fill="#262626" stroke="#262626" stroke-width="0.4">10<tspan dx="0.9" dy="-2.7" font-size="5.0">3</tspan></text>
<text transform="translate(238.0,526.6) scale(1.35,1)" font-size="7.8" fill="#262626" stroke="#262626" stroke-width="0.4">10<tspan dx="0.9" dy="-2.7" font-size="5.0">4</tspan></text>
<text transform="translate(182.0,536.9) scale(1.2,1)" font-size="7.6" fill="#262626" stroke="#262626" stroke-width="0.4">PE</text>
<text transform="translate(131.1,465.9) rotate(-90) scale(0.66,1)" font-size="11.5" fill="#262626" stroke="#262626" stroke-width="0.4">128</text>
<text transform="translate(131.1,519.1) rotate(-90) scale(0.66,1)" font-size="11.5" fill="#262626" stroke="#262626" stroke-width="0.4">0</text>
<text transform="translate(121.8,502.2) rotate(-90) scale(0.73,1)" font-size="11.6" fill="#262626" stroke="#262626" stroke-width="0.4">Events</text>
<text x="192.1" y="491.3" font-size="15.4" fill="#111" stroke="#111" stroke-width="0.3" >16</text>
<path d="M135.3,591.0 L135.3,574.6 L136.2,571.1 L137.2,568.3 L138.1,563.9 L139.1,560.5 L140.0,558.0 L140.9,555.5 L141.8,553.0 L142.7,552.0 L143.6,547.9 L144.5,546.3 L145.4,551.4 L146.3,555.1 L147.2,559.0 L148.1,561.7 L149.0,565.7 L149.9,569.3 L150.8,572.8 L151.7,575.2 L152.6,578.6 L153.6,581.2 L154.5,583.6 L155.4,586.0 L156.3,586.6 L157.2,587.6 L158.2,588.3 L159.1,589.1 L160.0,590.0 L160.9,589.9 L161.7,590.0 L162.6,590.3 L163.4,590.2 L164.3,590.6 L165.1,590.2 L166.0,590.5 L166.0,591.0 Z" fill="#9a9a9a" stroke="#222" stroke-width="1.2" stroke-linejoin="round"/>
<path d="M139.0,589.5 L139.7,589.2 L140.4,588.8 L141.1,588.1 L141.7,588.0 L142.4,588.0 L143.1,587.7 L143.8,587.3 L144.5,586.2 L145.2,586.6 L145.9,585.5 L146.6,585.6 L147.2,584.1 L147.9,585.2 L148.6,584.1 L149.3,583.9 L150.0,582.4 L150.7,582.3 L151.3,581.2 L152.0,580.3 L152.6,578.5 L153.3,578.8 L153.9,576.4 L154.6,575.1 L155.2,572.9 L155.9,573.9 L156.6,569.4 L157.2,568.4 L157.8,565.8 L158.5,568.0 L159.2,566.6 L160.0,565.8 L160.8,561.4 L161.5,563.5 L162.2,563.8 L162.9,562.9 L163.6,563.3 L164.3,570.9 L165.0,566.1 L165.7,570.1 L166.3,572.8 L167.0,577.0 L167.7,577.9 L168.5,580.3 L169.2,581.1 L170.0,583.3 L170.7,582.6 L171.5,584.4 L172.2,584.9 L172.9,585.8 L173.6,585.2 L174.3,585.3 L174.9,585.8 L175.6,585.4 L176.3,585.2 L177.0,586.0 L177.7,586.8 L178.4,586.8 L179.1,586.6 L179.7,587.4 L180.4,587.9 L181.1,587.7 L181.8,588.3 L182.4,588.5 L183.1,588.8 L183.8,589.2 L184.5,589.3 L185.2,589.5 L186.0,589.5 L186.7,589.7 L187.4,589.8 L188.1,590.1 L188.8,590.2 L189.6,590.2 L190.3,590.4 L191.0,590.5" fill="none" stroke="#000" stroke-width="3.0" stroke-linejoin="round" stroke-linecap="round"/>
<path d="M139.0,589.4 L139.5,589.2 L140.0,588.8 L140.4,588.5 L140.9,588.4 L141.4,587.9 L141.9,588.3 L142.4,587.3 L142.8,587.8 L143.3,586.9 L143.8,586.7 L144.3,586.5 L144.8,585.6 L145.4,585.4 L145.9,585.4 L146.4,585.2 L146.9,585.7 L147.4,585.7 L147.9,583.4 L148.4,584.1 L149.0,582.8 L149.5,584.1 L150.0,582.5 L150.5,583.3 L151.0,581.6 L151.5,579.4 L152.0,578.1 L152.6,578.2 L153.1,579.8 L153.6,576.0 L154.1,576.7 L154.6,575.4 L155.1,574.1 L155.6,575.4 L156.1,570.9 L156.6,572.9 L157.0,571.5 L157.5,572.3 L158.0,568.3 L158.5,570.2 L159.0,566.0 L159.5,566.6 L160.0,566.5 L160.5,567.8 L161.0,567.9 L161.5,560.7 L162.0,561.6 L162.5,565.6 L163.0,568.4 L163.5,566.8 L164.0,565.7 L164.5,571.3 L165.0,567.0 L165.5,568.0 L166.1,570.2 L166.6,572.6 L167.2,578.1 L167.7,577.8 L168.2,580.7 L168.6,581.9 L169.1,582.9 L169.6,582.9 L170.1,582.5 L170.6,583.6 L171.0,584.8 L171.5,585.1 L172.0,584.4 L172.5,585.5 L173.1,584.3 L173.6,584.8 L174.1,586.2 L174.6,585.4 L175.1,585.2 L175.6,586.2 L176.1,585.7 L176.7,585.1 L177.2,585.3 L177.7,585.8 L178.2,586.2 L178.7,587.3 L179.2,586.6 L179.7,587.7 L180.2,587.9 L180.8,587.7 L181.3,588.5 L181.8,588.5 L182.3,588.5 L182.8,588.6 L183.3,589.0 L183.8,589.5 L184.3,589.4 L184.8,589.3 L185.3,589.5 L185.9,589.6 L186.4,589.6 L186.9,589.8 L187.4,589.7 L187.9,590.1 L188.4,590.0 L188.9,590.1 L189.5,590.3 L190.0,590.3 L190.5,590.5 L191.0,590.5" fill="none" stroke="#000" stroke-width="1.5" stroke-linejoin="round" stroke-linecap="round"/>
<path d="M135.1,553.0 L136.0,553.0 L137.5,591.0 L135.1,591.0 Z" fill="#000"/>
<line x1="135.3" y1="534.6" x2="135.3" y2="591.6" stroke="#3a3a3a" stroke-width="1.3" />
<line x1="134.8" y1="591.5" x2="241.3" y2="591.5" stroke="#1c1c1c" stroke-width="1.5" />
<line x1="132.5" y1="534.6" x2="135.3" y2="534.6" stroke="#3a3a3a" stroke-width="1.0" />
<line x1="132.5" y1="548.7" x2="135.3" y2="548.7" stroke="#3a3a3a" stroke-width="1.0" />
<line x1="132.5" y1="562.8" x2="135.3" y2="562.8" stroke="#3a3a3a" stroke-width="1.0" />
<line x1="132.5" y1="576.9" x2="135.3" y2="576.9" stroke="#3a3a3a" stroke-width="1.0" />
<line x1="132.5" y1="591.0" x2="135.3" y2="591.0" stroke="#3a3a3a" stroke-width="1.0" />
<line x1="135.3" y1="591.0" x2="135.3" y2="594.2" stroke="#444" stroke-width="0.7" />
<line x1="143.3" y1="591.0" x2="143.3" y2="593.0" stroke="#444" stroke-width="0.7" />
<line x1="147.9" y1="591.0" x2="147.9" y2="593.0" stroke="#444" stroke-width="0.7" />
<line x1="151.3" y1="591.0" x2="151.3" y2="593.0" stroke="#444" stroke-width="0.7" />
<line x1="153.8" y1="591.0" x2="153.8" y2="593.0" stroke="#444" stroke-width="0.7" />
<line x1="155.9" y1="591.0" x2="155.9" y2="593.0" stroke="#444" stroke-width="0.7" />
<line x1="157.7" y1="591.0" x2="157.7" y2="593.0" stroke="#444" stroke-width="0.7" />
<line x1="159.2" y1="591.0" x2="159.2" y2="593.0" stroke="#444" stroke-width="0.7" />
<line x1="160.6" y1="591.0" x2="160.6" y2="593.0" stroke="#444" stroke-width="0.7" />
<line x1="161.8" y1="591.0" x2="161.8" y2="594.2" stroke="#444" stroke-width="0.7" />
<line x1="169.8" y1="591.0" x2="169.8" y2="593.0" stroke="#444" stroke-width="0.7" />
<line x1="174.4" y1="591.0" x2="174.4" y2="593.0" stroke="#444" stroke-width="0.7" />
<line x1="177.8" y1="591.0" x2="177.8" y2="593.0" stroke="#444" stroke-width="0.7" />
<line x1="180.3" y1="591.0" x2="180.3" y2="593.0" stroke="#444" stroke-width="0.7" />
<line x1="182.4" y1="591.0" x2="182.4" y2="593.0" stroke="#444" stroke-width="0.7" />
<line x1="184.2" y1="591.0" x2="184.2" y2="593.0" stroke="#444" stroke-width="0.7" />
<line x1="185.7" y1="591.0" x2="185.7" y2="593.0" stroke="#444" stroke-width="0.7" />
<line x1="187.1" y1="591.0" x2="187.1" y2="593.0" stroke="#444" stroke-width="0.7" />
<line x1="188.3" y1="591.0" x2="188.3" y2="594.2" stroke="#444" stroke-width="0.7" />
<line x1="196.3" y1="591.0" x2="196.3" y2="593.0" stroke="#444" stroke-width="0.7" />
<line x1="200.9" y1="591.0" x2="200.9" y2="593.0" stroke="#444" stroke-width="0.7" />
<line x1="204.3" y1="591.0" x2="204.3" y2="593.0" stroke="#444" stroke-width="0.7" />
<line x1="206.8" y1="591.0" x2="206.8" y2="593.0" stroke="#444" stroke-width="0.7" />
<line x1="208.9" y1="591.0" x2="208.9" y2="593.0" stroke="#444" stroke-width="0.7" />
<line x1="210.7" y1="591.0" x2="210.7" y2="593.0" stroke="#444" stroke-width="0.7" />
<line x1="212.2" y1="591.0" x2="212.2" y2="593.0" stroke="#444" stroke-width="0.7" />
<line x1="213.6" y1="591.0" x2="213.6" y2="593.0" stroke="#444" stroke-width="0.7" />
<line x1="214.8" y1="591.0" x2="214.8" y2="594.2" stroke="#444" stroke-width="0.7" />
<line x1="222.8" y1="591.0" x2="222.8" y2="593.0" stroke="#444" stroke-width="0.7" />
<line x1="227.4" y1="591.0" x2="227.4" y2="593.0" stroke="#444" stroke-width="0.7" />
<line x1="230.8" y1="591.0" x2="230.8" y2="593.0" stroke="#444" stroke-width="0.7" />
<line x1="233.3" y1="591.0" x2="233.3" y2="593.0" stroke="#444" stroke-width="0.7" />
<line x1="235.4" y1="591.0" x2="235.4" y2="593.0" stroke="#444" stroke-width="0.7" />
<line x1="237.2" y1="591.0" x2="237.2" y2="593.0" stroke="#444" stroke-width="0.7" />
<line x1="238.7" y1="591.0" x2="238.7" y2="593.0" stroke="#444" stroke-width="0.7" />
<line x1="240.1" y1="591.0" x2="240.1" y2="593.0" stroke="#444" stroke-width="0.7" />
<line x1="241.3" y1="591.0" x2="241.3" y2="594.2" stroke="#444" stroke-width="0.7" />
<text transform="translate(129.7,601.2) scale(1.35,1)" font-size="7.8" fill="#262626" stroke="#262626" stroke-width="0.4">10<tspan dx="0.9" dy="-2.7" font-size="5.0">0</tspan></text>
<text transform="translate(156.2,601.2) scale(1.35,1)" font-size="7.8" fill="#262626" stroke="#262626" stroke-width="0.4">10<tspan dx="0.9" dy="-2.7" font-size="5.0">1</tspan></text>
<text transform="translate(182.7,601.2) scale(1.35,1)" font-size="7.8" fill="#262626" stroke="#262626" stroke-width="0.4">10<tspan dx="0.9" dy="-2.7" font-size="5.0">2</tspan></text>
<text transform="translate(209.2,601.2) scale(1.35,1)" font-size="7.8" fill="#262626" stroke="#262626" stroke-width="0.4">10<tspan dx="0.9" dy="-2.7" font-size="5.0">3</tspan></text>
<text transform="translate(235.7,601.2) scale(1.35,1)" font-size="7.8" fill="#262626" stroke="#262626" stroke-width="0.4">10<tspan dx="0.9" dy="-2.7" font-size="5.0">4</tspan></text>
<text transform="translate(180.4,611.5) scale(1.2,1)" font-size="7.6" fill="#262626" stroke="#262626" stroke-width="0.4">PE</text>
<text transform="translate(130.0,540.5) rotate(-90) scale(0.66,1)" font-size="11.5" fill="#262626" stroke="#262626" stroke-width="0.4">128</text>
<text transform="translate(130.0,593.7) rotate(-90) scale(0.66,1)" font-size="11.5" fill="#262626" stroke="#262626" stroke-width="0.4">0</text>
<text transform="translate(120.7,576.8) rotate(-90) scale(0.73,1)" font-size="11.6" fill="#262626" stroke="#262626" stroke-width="0.4">Events</text>
<text x="192.1" y="564.5" font-size="15.4" fill="#111" stroke="#111" stroke-width="0.3" >10</text>
<path d="M135.4,667.4 L135.4,650.6 L136.3,647.3 L137.2,644.9 L138.2,640.9 L139.1,638.7 L140.0,635.0 L140.9,632.1 L141.9,628.2 L142.8,626.7 L143.7,622.5 L144.5,626.6 L145.4,630.5 L146.2,633.5 L147.1,637.0 L148.0,640.6 L148.8,645.5 L149.7,649.4 L150.6,653.3 L151.4,656.9 L152.3,661.1 L153.2,663.2 L154.0,666.0 L154.9,666.0 L155.8,666.3 L156.7,666.0 L157.6,666.1 L158.5,666.2 L159.5,666.3 L160.4,666.4 L161.3,666.8 L162.2,666.8 L163.1,666.9 L164.0,667.0 L164.0,667.4 Z" fill="#9a9a9a" stroke="#222" stroke-width="1.2" stroke-linejoin="round"/>
<path d="M139.0,666.4 L139.7,666.2 L140.4,666.1 L141.1,665.9 L141.8,666.0 L142.6,666.0 L143.3,665.5 L144.0,665.4 L144.7,665.5 L145.4,665.3 L146.1,664.4 L146.8,664.3 L147.4,663.9 L148.1,662.9 L148.8,662.2 L149.5,661.9 L150.1,661.8 L150.8,660.2 L151.5,659.6 L152.2,658.2 L152.8,658.1 L153.5,656.6 L154.2,654.8 L154.9,654.1 L155.5,651.7 L156.2,651.5 L157.0,652.7 L157.7,649.8 L158.5,647.1 L159.2,648.8 L160.0,644.5 L160.8,643.1 L161.5,641.0 L162.2,640.7 L163.0,640.2 L163.7,641.3 L164.3,646.0 L165.0,643.5 L165.7,644.4 L166.3,647.2 L167.0,649.6 L167.8,647.8 L168.5,651.0 L169.2,650.5 L170.0,652.4 L170.8,653.7 L171.5,655.9 L172.2,655.8 L172.9,655.6 L173.6,657.0 L174.3,656.2 L174.9,656.8 L175.6,658.7 L176.3,658.3 L177.0,659.3 L177.7,658.8 L178.4,660.5 L179.1,660.4 L179.7,660.3 L180.4,661.9 L181.1,661.7 L181.8,662.1 L182.4,662.5 L183.1,662.9 L183.8,663.5 L184.5,664.2 L185.2,664.0 L185.9,664.3 L186.5,664.7 L187.2,665.0 L187.9,665.1 L188.6,665.6 L189.3,665.6 L189.9,665.9 L190.6,666.1 L191.3,666.3 L192.0,666.5" fill="none" stroke="#000" stroke-width="3.0" stroke-linejoin="round" stroke-linecap="round"/>
<path d="M139.0,666.3 L139.5,666.4 L140.0,666.1 L140.5,666.2 L141.0,665.9 L141.5,666.0 L142.0,666.0 L142.4,665.7 L142.9,666.0 L143.4,665.7 L143.9,665.6 L144.4,665.2 L144.9,665.3 L145.4,665.1 L145.9,664.8 L146.4,664.8 L146.9,664.4 L147.4,663.0 L147.9,663.3 L148.4,663.3 L149.0,662.3 L149.5,661.0 L150.0,662.0 L150.5,660.7 L151.0,661.5 L151.5,660.9 L152.0,660.0 L152.5,659.5 L153.1,656.0 L153.6,657.6 L154.1,654.9 L154.6,653.3 L155.2,653.4 L155.7,653.5 L156.2,649.8 L156.7,651.1 L157.1,652.0 L157.6,649.6 L158.1,648.9 L158.6,646.6 L159.1,650.1 L159.5,644.5 L160.0,646.6 L160.5,645.8 L161.0,640.5 L161.5,647.4 L162.0,641.0 L162.5,646.4 L163.0,645.5 L163.5,645.9 L164.0,646.1 L164.5,643.3 L165.0,644.4 L165.5,644.4 L166.0,649.2 L166.5,643.8 L167.0,645.3 L167.5,651.1 L168.0,650.9 L168.5,651.1 L169.0,653.2 L169.5,651.6 L170.0,653.8 L170.5,652.7 L171.0,655.5 L171.5,652.7 L172.0,654.6 L172.5,655.6 L173.1,656.8 L173.6,655.8 L174.1,657.1 L174.6,658.4 L175.1,657.0 L175.6,656.7 L176.1,656.6 L176.7,659.5 L177.2,658.7 L177.7,658.9 L178.2,659.6 L178.7,659.1 L179.2,659.7 L179.7,660.2 L180.2,660.6 L180.8,662.2 L181.3,661.4 L181.8,661.6 L182.3,663.2 L182.8,663.1 L183.3,662.8 L183.8,664.0 L184.3,664.2 L184.8,664.3 L185.3,664.6 L185.9,664.4 L186.4,664.4 L186.9,665.0 L187.4,665.1 L187.9,665.3 L188.4,665.2 L188.9,665.5 L189.4,665.8 L189.9,665.8 L190.5,666.1 L191.0,666.2 L191.5,666.5 L192.0,666.6" fill="none" stroke="#000" stroke-width="1.5" stroke-linejoin="round" stroke-linecap="round"/>
<path d="M135.2,629.5 L136.1,629.5 L137.6,667.4 L135.2,667.4 Z" fill="#000"/>
<line x1="135.4" y1="609.8" x2="135.4" y2="668.0" stroke="#3a3a3a" stroke-width="1.3" />
<line x1="134.9" y1="667.9" x2="240.2" y2="667.9" stroke="#1c1c1c" stroke-width="1.5" />
<line x1="132.6" y1="609.8" x2="135.4" y2="609.8" stroke="#3a3a3a" stroke-width="1.0" />
<line x1="132.6" y1="624.2" x2="135.4" y2="624.2" stroke="#3a3a3a" stroke-width="1.0" />
<line x1="132.6" y1="638.6" x2="135.4" y2="638.6" stroke="#3a3a3a" stroke-width="1.0" />
<line x1="132.6" y1="653.0" x2="135.4" y2="653.0" stroke="#3a3a3a" stroke-width="1.0" />
<line x1="132.6" y1="667.4" x2="135.4" y2="667.4" stroke="#3a3a3a" stroke-width="1.0" />
<line x1="135.4" y1="667.4" x2="135.4" y2="670.6" stroke="#444" stroke-width="0.7" />
<line x1="143.3" y1="667.4" x2="143.3" y2="669.4" stroke="#444" stroke-width="0.7" />
<line x1="147.9" y1="667.4" x2="147.9" y2="669.4" stroke="#444" stroke-width="0.7" />
<line x1="151.2" y1="667.4" x2="151.2" y2="669.4" stroke="#444" stroke-width="0.7" />
<line x1="153.7" y1="667.4" x2="153.7" y2="669.4" stroke="#444" stroke-width="0.7" />
<line x1="155.8" y1="667.4" x2="155.8" y2="669.4" stroke="#444" stroke-width="0.7" />
<line x1="157.5" y1="667.4" x2="157.5" y2="669.4" stroke="#444" stroke-width="0.7" />
<line x1="159.1" y1="667.4" x2="159.1" y2="669.4" stroke="#444" stroke-width="0.7" />
<line x1="160.4" y1="667.4" x2="160.4" y2="669.4" stroke="#444" stroke-width="0.7" />
<line x1="161.6" y1="667.4" x2="161.6" y2="670.6" stroke="#444" stroke-width="0.7" />
<line x1="169.5" y1="667.4" x2="169.5" y2="669.4" stroke="#444" stroke-width="0.7" />
<line x1="174.1" y1="667.4" x2="174.1" y2="669.4" stroke="#444" stroke-width="0.7" />
<line x1="177.4" y1="667.4" x2="177.4" y2="669.4" stroke="#444" stroke-width="0.7" />
<line x1="179.9" y1="667.4" x2="179.9" y2="669.4" stroke="#444" stroke-width="0.7" />
<line x1="182.0" y1="667.4" x2="182.0" y2="669.4" stroke="#444" stroke-width="0.7" />
<line x1="183.7" y1="667.4" x2="183.7" y2="669.4" stroke="#444" stroke-width="0.7" />
<line x1="185.3" y1="667.4" x2="185.3" y2="669.4" stroke="#444" stroke-width="0.7" />
<line x1="186.6" y1="667.4" x2="186.6" y2="669.4" stroke="#444" stroke-width="0.7" />
<line x1="187.8" y1="667.4" x2="187.8" y2="670.6" stroke="#444" stroke-width="0.7" />
<line x1="195.7" y1="667.4" x2="195.7" y2="669.4" stroke="#444" stroke-width="0.7" />
<line x1="200.3" y1="667.4" x2="200.3" y2="669.4" stroke="#444" stroke-width="0.7" />
<line x1="203.6" y1="667.4" x2="203.6" y2="669.4" stroke="#444" stroke-width="0.7" />
<line x1="206.1" y1="667.4" x2="206.1" y2="669.4" stroke="#444" stroke-width="0.7" />
<line x1="208.2" y1="667.4" x2="208.2" y2="669.4" stroke="#444" stroke-width="0.7" />
<line x1="209.9" y1="667.4" x2="209.9" y2="669.4" stroke="#444" stroke-width="0.7" />
<line x1="211.5" y1="667.4" x2="211.5" y2="669.4" stroke="#444" stroke-width="0.7" />
<line x1="212.8" y1="667.4" x2="212.8" y2="669.4" stroke="#444" stroke-width="0.7" />
<line x1="214.0" y1="667.4" x2="214.0" y2="670.6" stroke="#444" stroke-width="0.7" />
<line x1="221.9" y1="667.4" x2="221.9" y2="669.4" stroke="#444" stroke-width="0.7" />
<line x1="226.5" y1="667.4" x2="226.5" y2="669.4" stroke="#444" stroke-width="0.7" />
<line x1="229.8" y1="667.4" x2="229.8" y2="669.4" stroke="#444" stroke-width="0.7" />
<line x1="232.3" y1="667.4" x2="232.3" y2="669.4" stroke="#444" stroke-width="0.7" />
<line x1="234.4" y1="667.4" x2="234.4" y2="669.4" stroke="#444" stroke-width="0.7" />
<line x1="236.1" y1="667.4" x2="236.1" y2="669.4" stroke="#444" stroke-width="0.7" />
<line x1="237.7" y1="667.4" x2="237.7" y2="669.4" stroke="#444" stroke-width="0.7" />
<line x1="239.0" y1="667.4" x2="239.0" y2="669.4" stroke="#444" stroke-width="0.7" />
<line x1="240.2" y1="667.4" x2="240.2" y2="670.6" stroke="#444" stroke-width="0.7" />
<text transform="translate(129.8,677.6) scale(1.35,1)" font-size="7.8" fill="#262626" stroke="#262626" stroke-width="0.4">10<tspan dx="0.9" dy="-2.7" font-size="5.0">0</tspan></text>
<text transform="translate(156.0,677.6) scale(1.35,1)" font-size="7.8" fill="#262626" stroke="#262626" stroke-width="0.4">10<tspan dx="0.9" dy="-2.7" font-size="5.0">1</tspan></text>
<text transform="translate(182.2,677.6) scale(1.35,1)" font-size="7.8" fill="#262626" stroke="#262626" stroke-width="0.4">10<tspan dx="0.9" dy="-2.7" font-size="5.0">2</tspan></text>
<text transform="translate(208.4,677.6) scale(1.35,1)" font-size="7.8" fill="#262626" stroke="#262626" stroke-width="0.4">10<tspan dx="0.9" dy="-2.7" font-size="5.0">3</tspan></text>
<text transform="translate(234.6,677.6) scale(1.35,1)" font-size="7.8" fill="#262626" stroke="#262626" stroke-width="0.4">10<tspan dx="0.9" dy="-2.7" font-size="5.0">4</tspan></text>
<text transform="translate(179.9,687.9) scale(1.2,1)" font-size="7.6" fill="#262626" stroke="#262626" stroke-width="0.4">PE</text>
<text transform="translate(130.1,615.7) rotate(-90) scale(0.66,1)" font-size="11.5" fill="#262626" stroke="#262626" stroke-width="0.4">128</text>
<text transform="translate(130.1,670.1) rotate(-90) scale(0.66,1)" font-size="11.5" fill="#262626" stroke="#262626" stroke-width="0.4">0</text>
<text transform="translate(120.8,652.6) rotate(-90) scale(0.73,1)" font-size="11.6" fill="#262626" stroke="#262626" stroke-width="0.4">Events</text>
<text x="192.1" y="643.5" font-size="15.4" fill="#111" stroke="#111" stroke-width="0.3" >13</text>
<path d="M272.7,442.9 L272.7,427.6 L273.6,424.5 L274.5,421.9 L275.4,418.8 L276.3,416.5 L277.2,413.0 L278.1,409.4 L279.0,407.3 L279.9,404.9 L280.8,400.8 L281.7,399.9 L282.6,403.1 L283.4,404.8 L284.2,409.1 L285.1,413.5 L285.9,416.2 L286.8,419.8 L287.6,424.0 L288.5,427.9 L289.4,431.6 L290.2,436.0 L291.2,438.6 L292.2,441.8 L293.1,441.8 L293.9,441.9 L294.8,441.8 L295.7,441.8 L296.5,442.3 L297.4,442.1 L298.3,442.2 L299.1,442.3 L300.0,442.5 L300.0,442.9 Z" fill="#9a9a9a" stroke="#222" stroke-width="1.2" stroke-linejoin="round"/>
<path d="M275.0,442.4 L275.7,442.3 L276.4,442.3 L277.1,442.3 L277.7,442.2 L278.4,442.2 L279.1,442.1 L279.8,442.1 L280.5,442.0 L281.2,442.0 L281.8,441.9 L282.5,441.9 L283.2,441.8 L283.9,441.7 L284.6,441.7 L285.3,441.7 L285.9,441.6 L286.6,441.6 L287.3,441.5 L288.0,441.4 L288.7,440.9 L289.4,440.6 L290.1,440.1 L290.8,439.5 L291.4,439.1 L292.1,438.6 L292.8,438.2 L293.5,437.7 L294.2,436.9 L295.0,435.5 L295.7,433.7 L296.5,431.5 L297.2,430.1 L298.0,427.7 L298.6,424.7 L299.3,421.6 L299.9,420.2 L300.6,415.7 L301.2,412.5 L301.9,411.6 L302.7,408.4 L303.4,404.1 L304.2,402.4 L305.0,402.9 L305.8,407.4 L306.5,411.1 L307.3,415.2 L308.1,418.9 L308.9,423.0 L309.6,427.8 L310.4,432.7 L311.2,434.6 L311.9,436.3 L312.7,438.1 L313.5,439.9 L314.2,440.4 L314.8,440.5 L315.5,440.8 L316.1,440.9 L316.8,441.2 L317.5,441.5 L318.1,441.8 L318.8,442.0 L319.5,442.1 L320.2,442.1 L320.9,442.2 L321.5,442.2 L322.2,442.2 L322.9,442.3 L323.6,442.3 L324.3,442.4 L324.9,442.4 L325.6,442.5 L326.3,442.6 L327.0,442.6" fill="none" stroke="#000" stroke-width="3.0" stroke-linejoin="round" stroke-linecap="round"/>
<path d="M275.0,442.4 L275.5,442.4 L276.0,442.4 L276.5,442.3 L277.0,442.2 L277.5,442.2 L278.0,442.2 L278.5,442.2 L279.0,442.1 L279.5,442.0 L280.0,442.0 L280.5,442.0 L281.0,442.0 L281.5,441.9 L282.0,442.0 L282.5,441.9 L283.0,441.8 L283.5,441.8 L284.0,441.7 L284.5,441.7 L285.0,441.7 L285.5,441.6 L286.0,441.6 L286.5,441.6 L287.0,441.6 L287.5,441.5 L288.0,441.4 L288.5,441.2 L289.0,440.9 L289.6,440.5 L290.1,440.1 L290.6,439.4 L291.1,439.2 L291.6,438.6 L292.1,438.7 L292.6,437.9 L293.2,437.9 L293.7,437.2 L294.2,437.2 L294.7,435.7 L295.1,434.1 L295.6,433.4 L296.1,432.1 L296.6,431.8 L297.1,429.7 L297.5,428.9 L298.0,427.8 L298.5,426.5 L299.1,422.0 L299.6,421.1 L300.1,418.5 L300.7,417.0 L301.2,415.7 L301.7,410.8 L302.2,410.5 L302.7,407.5 L303.2,405.6 L303.7,400.7 L304.2,402.8 L304.7,406.0 L305.2,405.0 L305.8,407.3 L306.3,412.8 L306.8,411.4 L307.3,413.8 L307.8,416.7 L308.3,422.0 L308.9,424.5 L309.4,426.5 L309.9,429.7 L310.4,431.6 L310.9,433.8 L311.4,434.8 L311.9,436.2 L312.5,437.3 L313.0,438.7 L313.5,439.9 L314.0,440.0 L314.5,440.3 L314.9,440.5 L315.4,440.8 L315.9,441.0 L316.4,441.1 L316.9,441.3 L317.4,441.4 L317.8,441.6 L318.3,441.8 L318.8,442.0 L319.3,442.1 L319.8,442.0 L320.3,442.1 L320.9,442.1 L321.4,442.2 L321.9,442.3 L322.4,442.3 L322.9,442.3 L323.4,442.4 L323.9,442.4 L324.4,442.4 L324.9,442.5 L325.5,442.5 L326.0,442.5 L326.5,442.6 L327.0,442.6" fill="none" stroke="#000" stroke-width="1.5" stroke-linejoin="round" stroke-linecap="round"/>
<path d="M272.5,406.6 L273.4,406.6 L274.9,442.9 L272.5,442.9 Z" fill="#000"/>
<line x1="272.7" y1="387.7" x2="272.7" y2="443.5" stroke="#3a3a3a" stroke-width="1.3" />
<line x1="272.2" y1="443.4" x2="377.5" y2="443.4" stroke="#1c1c1c" stroke-width="1.5" />
<line x1="269.9" y1="387.7" x2="272.7" y2="387.7" stroke="#3a3a3a" stroke-width="1.0" />
<line x1="269.9" y1="401.5" x2="272.7" y2="401.5" stroke="#3a3a3a" stroke-width="1.0" />
<line x1="269.9" y1="415.3" x2="272.7" y2="415.3" stroke="#3a3a3a" stroke-width="1.0" />
<line x1="269.9" y1="429.1" x2="272.7" y2="429.1" stroke="#3a3a3a" stroke-width="1.0" />
<line x1="269.9" y1="442.9" x2="272.7" y2="442.9" stroke="#3a3a3a" stroke-width="1.0" />
<line x1="272.7" y1="442.9" x2="272.7" y2="446.1" stroke="#444" stroke-width="0.7" />
<line x1="280.6" y1="442.9" x2="280.6" y2="444.9" stroke="#444" stroke-width="0.7" />
<line x1="285.2" y1="442.9" x2="285.2" y2="444.9" stroke="#444" stroke-width="0.7" />
<line x1="288.5" y1="442.9" x2="288.5" y2="444.9" stroke="#444" stroke-width="0.7" />
<line x1="291.0" y1="442.9" x2="291.0" y2="444.9" stroke="#444" stroke-width="0.7" />
<line x1="293.1" y1="442.9" x2="293.1" y2="444.9" stroke="#444" stroke-width="0.7" />
<line x1="294.8" y1="442.9" x2="294.8" y2="444.9" stroke="#444" stroke-width="0.7" />
<line x1="296.4" y1="442.9" x2="296.4" y2="444.9" stroke="#444" stroke-width="0.7" />
<line x1="297.7" y1="442.9" x2="297.7" y2="444.9" stroke="#444" stroke-width="0.7" />
<line x1="298.9" y1="442.9" x2="298.9" y2="446.1" stroke="#444" stroke-width="0.7" />
<line x1="306.8" y1="442.9" x2="306.8" y2="444.9" stroke="#444" stroke-width="0.7" />
<line x1="311.4" y1="442.9" x2="311.4" y2="444.9" stroke="#444" stroke-width="0.7" />
<line x1="314.7" y1="442.9" x2="314.7" y2="444.9" stroke="#444" stroke-width="0.7" />
<line x1="317.2" y1="442.9" x2="317.2" y2="444.9" stroke="#444" stroke-width="0.7" />
<line x1="319.3" y1="442.9" x2="319.3" y2="444.9" stroke="#444" stroke-width="0.7" />
<line x1="321.0" y1="442.9" x2="321.0" y2="444.9" stroke="#444" stroke-width="0.7" />
<line x1="322.6" y1="442.9" x2="322.6" y2="444.9" stroke="#444" stroke-width="0.7" />
<line x1="323.9" y1="442.9" x2="323.9" y2="444.9" stroke="#444" stroke-width="0.7" />
<line x1="325.1" y1="442.9" x2="325.1" y2="446.1" stroke="#444" stroke-width="0.7" />
<line x1="333.0" y1="442.9" x2="333.0" y2="444.9" stroke="#444" stroke-width="0.7" />
<line x1="337.6" y1="442.9" x2="337.6" y2="444.9" stroke="#444" stroke-width="0.7" />
<line x1="340.9" y1="442.9" x2="340.9" y2="444.9" stroke="#444" stroke-width="0.7" />
<line x1="343.4" y1="442.9" x2="343.4" y2="444.9" stroke="#444" stroke-width="0.7" />
<line x1="345.5" y1="442.9" x2="345.5" y2="444.9" stroke="#444" stroke-width="0.7" />
<line x1="347.2" y1="442.9" x2="347.2" y2="444.9" stroke="#444" stroke-width="0.7" />
<line x1="348.8" y1="442.9" x2="348.8" y2="444.9" stroke="#444" stroke-width="0.7" />
<line x1="350.1" y1="442.9" x2="350.1" y2="444.9" stroke="#444" stroke-width="0.7" />
<line x1="351.3" y1="442.9" x2="351.3" y2="446.1" stroke="#444" stroke-width="0.7" />
<line x1="359.2" y1="442.9" x2="359.2" y2="444.9" stroke="#444" stroke-width="0.7" />
<line x1="363.8" y1="442.9" x2="363.8" y2="444.9" stroke="#444" stroke-width="0.7" />
<line x1="367.1" y1="442.9" x2="367.1" y2="444.9" stroke="#444" stroke-width="0.7" />
<line x1="369.6" y1="442.9" x2="369.6" y2="444.9" stroke="#444" stroke-width="0.7" />
<line x1="371.7" y1="442.9" x2="371.7" y2="444.9" stroke="#444" stroke-width="0.7" />
<line x1="373.4" y1="442.9" x2="373.4" y2="444.9" stroke="#444" stroke-width="0.7" />
<line x1="375.0" y1="442.9" x2="375.0" y2="444.9" stroke="#444" stroke-width="0.7" />
<line x1="376.3" y1="442.9" x2="376.3" y2="444.9" stroke="#444" stroke-width="0.7" />
<line x1="377.5" y1="442.9" x2="377.5" y2="446.1" stroke="#444" stroke-width="0.7" />
<text transform="translate(267.1,453.1) scale(1.35,1)" font-size="7.8" fill="#262626" stroke="#262626" stroke-width="0.4">10<tspan dx="0.9" dy="-2.7" font-size="5.0">0</tspan></text>
<text transform="translate(293.3,453.1) scale(1.35,1)" font-size="7.8" fill="#262626" stroke="#262626" stroke-width="0.4">10<tspan dx="0.9" dy="-2.7" font-size="5.0">1</tspan></text>
<text transform="translate(319.5,453.1) scale(1.35,1)" font-size="7.8" fill="#262626" stroke="#262626" stroke-width="0.4">10<tspan dx="0.9" dy="-2.7" font-size="5.0">2</tspan></text>
<text transform="translate(345.7,453.1) scale(1.35,1)" font-size="7.8" fill="#262626" stroke="#262626" stroke-width="0.4">10<tspan dx="0.9" dy="-2.7" font-size="5.0">3</tspan></text>
<text transform="translate(371.9,453.1) scale(1.35,1)" font-size="7.8" fill="#262626" stroke="#262626" stroke-width="0.4">10<tspan dx="0.9" dy="-2.7" font-size="5.0">4</tspan></text>
<text transform="translate(317.2,463.4) scale(1.2,1)" font-size="7.6" fill="#262626" stroke="#262626" stroke-width="0.4">PE</text>
<text transform="translate(267.4,393.6) rotate(-90) scale(0.66,1)" font-size="11.5" fill="#262626" stroke="#262626" stroke-width="0.4">128</text>
<text transform="translate(267.4,445.6) rotate(-90) scale(0.66,1)" font-size="11.5" fill="#262626" stroke="#262626" stroke-width="0.4">0</text>
<text transform="translate(258.1,429.3) rotate(-90) scale(0.73,1)" font-size="11.6" fill="#262626" stroke="#262626" stroke-width="0.4">Events</text>
<text x="320.1" y="412.3" font-size="15.4" fill="#111" stroke="#111" stroke-width="0.3" >11</text>
<path d="M271.7,516.4 L271.7,499.6 L272.6,497.0 L273.5,493.8 L274.4,490.6 L275.3,488.6 L276.1,486.1 L277.0,483.5 L277.9,480.5 L278.8,477.9 L279.7,474.7 L280.6,472.6 L281.5,473.7 L282.3,477.7 L283.2,480.5 L284.1,483.0 L284.9,485.2 L285.8,487.3 L286.7,491.7 L287.6,496.6 L288.6,500.3 L289.5,504.6 L290.4,508.9 L291.3,510.0 L292.2,510.7 L293.1,511.6 L293.9,512.4 L294.8,513.3 L295.7,514.2 L296.6,515.0 L297.5,515.2 L298.3,515.5 L299.1,515.3 L300.0,515.5 L300.0,516.4 Z" fill="#9a9a9a" stroke="#222" stroke-width="1.2" stroke-linejoin="round"/>
<path d="M274.0,515.2 L274.7,515.1 L275.4,514.9 L276.1,514.5 L276.7,514.2 L277.4,513.8 L278.1,514.0 L278.8,513.3 L279.5,513.0 L280.2,512.4 L280.9,511.8 L281.6,511.4 L282.2,510.7 L282.9,510.0 L283.6,510.0 L284.3,509.9 L285.0,509.2 L285.7,507.4 L286.3,507.1 L287.0,504.7 L287.6,504.3 L288.3,504.3 L288.9,503.5 L289.6,501.1 L290.3,499.8 L291.0,495.8 L291.6,493.3 L292.3,490.9 L293.0,491.4 L293.7,488.3 L294.4,484.9 L295.1,484.7 L295.8,482.4 L296.5,478.5 L297.2,483.7 L297.9,486.0 L298.7,486.8 L299.4,490.8 L300.1,488.0 L300.7,495.6 L301.4,501.1 L302.0,505.5 L302.7,507.8 L303.5,511.1 L304.2,513.5 L304.9,513.6 L305.6,513.8 L306.4,514.4 L307.1,514.4 L307.8,514.6 L308.6,514.8 L309.3,515.1 L310.0,515.5" fill="none" stroke="#000" stroke-width="3.0" stroke-linejoin="round" stroke-linecap="round"/>
<path d="M274.0,515.1 L274.5,514.9 L275.0,514.7 L275.4,514.7 L275.9,514.3 L276.4,514.2 L276.9,514.3 L277.4,514.3 L277.8,514.1 L278.3,513.3 L278.8,513.4 L279.3,513.5 L279.8,512.2 L280.4,512.0 L280.9,512.0 L281.4,511.4 L281.9,511.7 L282.4,511.3 L282.9,510.4 L283.4,509.6 L284.0,509.2 L284.5,508.8 L285.0,508.0 L285.5,508.6 L286.0,506.3 L286.5,507.6 L287.0,506.0 L287.6,503.0 L288.1,503.8 L288.6,503.4 L289.1,500.0 L289.6,501.1 L290.1,496.5 L290.7,498.6 L291.2,491.3 L291.8,493.6 L292.3,494.5 L292.8,492.2 L293.4,485.3 L293.9,486.7 L294.4,481.4 L294.9,482.0 L295.4,486.3 L296.0,484.6 L296.5,473.8 L297.0,479.8 L297.5,484.2 L298.0,480.9 L298.6,488.8 L299.1,491.0 L299.6,489.4 L300.1,489.4 L300.6,496.8 L301.1,498.2 L301.5,500.5 L302.0,505.0 L302.6,506.8 L303.1,510.4 L303.6,511.6 L304.2,513.7 L304.7,513.9 L305.2,514.2 L305.6,513.7 L306.1,514.1 L306.6,514.5 L307.1,514.6 L307.6,514.5 L308.1,514.8 L308.6,514.8 L309.0,514.9 L309.5,515.1 L310.0,515.4" fill="none" stroke="#000" stroke-width="1.5" stroke-linejoin="round" stroke-linecap="round"/>
<path d="M271.5,479.0 L272.4,479.0 L273.9,516.4 L271.5,516.4 Z" fill="#000"/>
<line x1="271.7" y1="460.2" x2="271.7" y2="517.0" stroke="#3a3a3a" stroke-width="1.3" />
<line x1="271.2" y1="516.9" x2="376.5" y2="516.9" stroke="#1c1c1c" stroke-width="1.5" />
<line x1="268.9" y1="460.2" x2="271.7" y2="460.2" stroke="#3a3a3a" stroke-width="1.0" />
<line x1="268.9" y1="474.2" x2="271.7" y2="474.2" stroke="#3a3a3a" stroke-width="1.0" />
<line x1="268.9" y1="488.3" x2="271.7" y2="488.3" stroke="#3a3a3a" stroke-width="1.0" />
<line x1="268.9" y1="502.3" x2="271.7" y2="502.3" stroke="#3a3a3a" stroke-width="1.0" />
<line x1="268.9" y1="516.4" x2="271.7" y2="516.4" stroke="#3a3a3a" stroke-width="1.0" />
<line x1="271.7" y1="516.4" x2="271.7" y2="519.6" stroke="#444" stroke-width="0.7" />
<line x1="279.6" y1="516.4" x2="279.6" y2="518.4" stroke="#444" stroke-width="0.7" />
<line x1="284.2" y1="516.4" x2="284.2" y2="518.4" stroke="#444" stroke-width="0.7" />
<line x1="287.5" y1="516.4" x2="287.5" y2="518.4" stroke="#444" stroke-width="0.7" />
<line x1="290.0" y1="516.4" x2="290.0" y2="518.4" stroke="#444" stroke-width="0.7" />
<line x1="292.1" y1="516.4" x2="292.1" y2="518.4" stroke="#444" stroke-width="0.7" />
<line x1="293.8" y1="516.4" x2="293.8" y2="518.4" stroke="#444" stroke-width="0.7" />
<line x1="295.4" y1="516.4" x2="295.4" y2="518.4" stroke="#444" stroke-width="0.7" />
<line x1="296.7" y1="516.4" x2="296.7" y2="518.4" stroke="#444" stroke-width="0.7" />
<line x1="297.9" y1="516.4" x2="297.9" y2="519.6" stroke="#444" stroke-width="0.7" />
<line x1="305.8" y1="516.4" x2="305.8" y2="518.4" stroke="#444" stroke-width="0.7" />
<line x1="310.4" y1="516.4" x2="310.4" y2="518.4" stroke="#444" stroke-width="0.7" />
<line x1="313.7" y1="516.4" x2="313.7" y2="518.4" stroke="#444" stroke-width="0.7" />
<line x1="316.2" y1="516.4" x2="316.2" y2="518.4" stroke="#444" stroke-width="0.7" />
<line x1="318.3" y1="516.4" x2="318.3" y2="518.4" stroke="#444" stroke-width="0.7" />
<line x1="320.0" y1="516.4" x2="320.0" y2="518.4" stroke="#444" stroke-width="0.7" />
<line x1="321.6" y1="516.4" x2="321.6" y2="518.4" stroke="#444" stroke-width="0.7" />
<line x1="322.9" y1="516.4" x2="322.9" y2="518.4" stroke="#444" stroke-width="0.7" />
<line x1="324.1" y1="516.4" x2="324.1" y2="519.6" stroke="#444" stroke-width="0.7" />
<line x1="332.0" y1="516.4" x2="332.0" y2="518.4" stroke="#444" stroke-width="0.7" />
<line x1="336.6" y1="516.4" x2="336.6" y2="518.4" stroke="#444" stroke-width="0.7" />
<line x1="339.9" y1="516.4" x2="339.9" y2="518.4" stroke="#444" stroke-width="0.7" />
<line x1="342.4" y1="516.4" x2="342.4" y2="518.4" stroke="#444" stroke-width="0.7" />
<line x1="344.5" y1="516.4" x2="344.5" y2="518.4" stroke="#444" stroke-width="0.7" />
<line x1="346.2" y1="516.4" x2="346.2" y2="518.4" stroke="#444" stroke-width="0.7" />
<line x1="347.8" y1="516.4" x2="347.8" y2="518.4" stroke="#444" stroke-width="0.7" />
<line x1="349.1" y1="516.4" x2="349.1" y2="518.4" stroke="#444" stroke-width="0.7" />
<line x1="350.3" y1="516.4" x2="350.3" y2="519.6" stroke="#444" stroke-width="0.7" />
<line x1="358.2" y1="516.4" x2="358.2" y2="518.4" stroke="#444" stroke-width="0.7" />
<line x1="362.8" y1="516.4" x2="362.8" y2="518.4" stroke="#444" stroke-width="0.7" />
<line x1="366.1" y1="516.4" x2="366.1" y2="518.4" stroke="#444" stroke-width="0.7" />
<line x1="368.6" y1="516.4" x2="368.6" y2="518.4" stroke="#444" stroke-width="0.7" />
<line x1="370.7" y1="516.4" x2="370.7" y2="518.4" stroke="#444" stroke-width="0.7" />
<line x1="372.4" y1="516.4" x2="372.4" y2="518.4" stroke="#444" stroke-width="0.7" />
<line x1="374.0" y1="516.4" x2="374.0" y2="518.4" stroke="#444" stroke-width="0.7" />
<line x1="375.3" y1="516.4" x2="375.3" y2="518.4" stroke="#444" stroke-width="0.7" />
<line x1="376.5" y1="516.4" x2="376.5" y2="519.6" stroke="#444" stroke-width="0.7" />
<text transform="translate(266.1,526.6) scale(1.35,1)" font-size="7.8" fill="#262626" stroke="#262626" stroke-width="0.4">10<tspan dx="0.9" dy="-2.7" font-size="5.0">0</tspan></text>
<text transform="translate(292.3,526.6) scale(1.35,1)" font-size="7.8" fill="#262626" stroke="#262626" stroke-width="0.4">10<tspan dx="0.9" dy="-2.7" font-size="5.0">1</tspan></text>
<text transform="translate(318.5,526.6) scale(1.35,1)" font-size="7.8" fill="#262626" stroke="#262626" stroke-width="0.4">10<tspan dx="0.9" dy="-2.7" font-size="5.0">2</tspan></text>
<text transform="translate(344.7,526.6) scale(1.35,1)" font-size="7.8" fill="#262626" stroke="#262626" stroke-width="0.4">10<tspan dx="0.9" dy="-2.7" font-size="5.0">3</tspan></text>
<text transform="translate(370.9,526.6) scale(1.35,1)" font-size="7.8" fill="#262626" stroke="#262626" stroke-width="0.4">10<tspan dx="0.9" dy="-2.7" font-size="5.0">4</tspan></text>
<text transform="translate(316.2,536.9) scale(1.2,1)" font-size="7.6" fill="#262626" stroke="#262626" stroke-width="0.4">PE</text>
<text transform="translate(266.4,466.1) rotate(-90) scale(0.66,1)" font-size="11.5" fill="#262626" stroke="#262626" stroke-width="0.4">128</text>
<text transform="translate(266.4,519.1) rotate(-90) scale(0.66,1)" font-size="11.5" fill="#262626" stroke="#262626" stroke-width="0.4">0</text>
<text transform="translate(257.1,502.3) rotate(-90) scale(0.73,1)" font-size="11.6" fill="#262626" stroke="#262626" stroke-width="0.4">Events</text>
<text x="327.7" y="494.1" font-size="15.4" fill="#111" stroke="#111" stroke-width="0.3" >9</text>
<path d="M271.1,591.0 L271.1,573.0 L272.0,571.1 L272.8,568.0 L273.7,565.2 L274.6,562.4 L275.5,559.4 L276.3,556.8 L277.2,553.6 L278.1,552.5 L278.9,549.7 L279.8,546.3 L280.7,550.6 L281.5,553.4 L282.4,556.9 L283.2,559.6 L284.1,562.5 L284.9,564.9 L285.8,568.6 L286.8,572.4 L287.7,576.2 L288.7,579.8 L289.6,583.9 L290.5,584.6 L291.4,585.8 L292.3,587.2 L293.2,587.9 L294.1,588.9 L295.0,590.0 L296.0,589.9 L297.0,590.4 L298.0,590.2 L299.0,590.5 L299.0,591.0 Z" fill="#9a9a9a" stroke="#222" stroke-width="1.2" stroke-linejoin="round"/>
<path d="M274.0,590.2 L274.7,590.0 L275.3,589.6 L276.0,589.4 L276.6,588.7 L277.3,588.8 L278.0,587.7 L278.7,587.4 L279.4,586.5 L280.1,586.8 L280.7,586.2 L281.4,586.1 L282.1,585.4 L282.8,585.2 L283.5,584.1 L284.2,583.7 L285.0,582.0 L285.8,579.7 L286.5,580.2 L287.2,577.1 L288.0,575.1 L288.7,572.3 L289.4,571.8 L290.2,568.2 L290.9,570.1 L291.6,568.3 L292.3,562.5 L293.0,560.5 L293.7,562.2 L294.4,558.4 L295.1,560.0 L295.8,560.9 L296.5,557.8 L297.2,560.3 L297.9,564.8 L298.6,562.8 L299.3,563.3 L300.0,567.9 L300.7,571.7 L301.3,576.2 L302.0,579.8 L302.8,581.2 L303.5,583.9 L304.2,586.1 L305.0,587.9 L305.7,588.0 L306.4,588.4 L307.1,588.9 L307.9,589.4 L308.6,589.7 L309.3,590.0 L310.0,590.4" fill="none" stroke="#000" stroke-width="3.0" stroke-linejoin="round" stroke-linecap="round"/>
<path d="M274.0,590.1 L274.5,590.0 L274.9,589.6 L275.4,589.5 L275.9,589.4 L276.4,588.8 L276.8,589.1 L277.3,588.2 L277.8,588.2 L278.3,587.8 L278.9,587.1 L279.4,587.1 L279.9,586.6 L280.4,586.2 L280.9,586.2 L281.4,584.6 L281.9,584.9 L282.5,585.3 L283.0,583.6 L283.5,584.8 L284.0,582.4 L284.5,582.8 L285.0,580.4 L285.5,580.4 L286.0,579.4 L286.5,577.2 L287.0,578.8 L287.5,577.0 L288.0,577.1 L288.5,574.9 L289.0,573.5 L289.5,571.8 L290.1,568.7 L290.6,571.4 L291.1,563.9 L291.6,568.6 L292.1,567.7 L292.7,563.7 L293.2,565.4 L293.7,563.6 L294.2,562.1 L294.8,558.2 L295.3,557.5 L295.8,556.9 L296.3,557.4 L296.9,564.8 L297.4,559.6 L297.9,561.0 L298.4,562.2 L298.9,566.5 L299.5,564.4 L300.0,565.9 L300.5,567.2 L301.0,571.1 L301.5,573.9 L302.0,578.2 L302.5,579.9 L303.0,583.1 L303.5,583.6 L304.0,584.2 L304.5,586.3 L305.0,587.4 L305.5,588.1 L306.0,588.3 L306.5,588.9 L307.0,588.7 L307.5,589.3 L308.0,589.2 L308.5,589.8 L309.0,589.9 L309.5,590.0 L310.0,590.5" fill="none" stroke="#000" stroke-width="1.5" stroke-linejoin="round" stroke-linecap="round"/>
<path d="M270.9,553.4 L271.8,553.4 L273.3,591.0 L270.9,591.0 Z" fill="#000"/>
<line x1="271.1" y1="534.6" x2="271.1" y2="591.6" stroke="#3a3a3a" stroke-width="1.3" />
<line x1="270.6" y1="591.5" x2="376.1" y2="591.5" stroke="#1c1c1c" stroke-width="1.5" />
<line x1="268.3" y1="534.6" x2="271.1" y2="534.6" stroke="#3a3a3a" stroke-width="1.0" />
<line x1="268.3" y1="548.7" x2="271.1" y2="548.7" stroke="#3a3a3a" stroke-width="1.0" />
<line x1="268.3" y1="562.8" x2="271.1" y2="562.8" stroke="#3a3a3a" stroke-width="1.0" />
<line x1="268.3" y1="576.9" x2="271.1" y2="576.9" stroke="#3a3a3a" stroke-width="1.0" />
<line x1="268.3" y1="591.0" x2="271.1" y2="591.0" stroke="#3a3a3a" stroke-width="1.0" />
<line x1="271.1" y1="591.0" x2="271.1" y2="594.2" stroke="#444" stroke-width="0.7" />
<line x1="279.0" y1="591.0" x2="279.0" y2="593.0" stroke="#444" stroke-width="0.7" />
<line x1="283.6" y1="591.0" x2="283.6" y2="593.0" stroke="#444" stroke-width="0.7" />
<line x1="286.9" y1="591.0" x2="286.9" y2="593.0" stroke="#444" stroke-width="0.7" />
<line x1="289.4" y1="591.0" x2="289.4" y2="593.0" stroke="#444" stroke-width="0.7" />
<line x1="291.5" y1="591.0" x2="291.5" y2="593.0" stroke="#444" stroke-width="0.7" />
<line x1="293.3" y1="591.0" x2="293.3" y2="593.0" stroke="#444" stroke-width="0.7" />
<line x1="294.8" y1="591.0" x2="294.8" y2="593.0" stroke="#444" stroke-width="0.7" />
<line x1="296.1" y1="591.0" x2="296.1" y2="593.0" stroke="#444" stroke-width="0.7" />
<line x1="297.4" y1="591.0" x2="297.4" y2="594.2" stroke="#444" stroke-width="0.7" />
<line x1="305.3" y1="591.0" x2="305.3" y2="593.0" stroke="#444" stroke-width="0.7" />
<line x1="309.9" y1="591.0" x2="309.9" y2="593.0" stroke="#444" stroke-width="0.7" />
<line x1="313.2" y1="591.0" x2="313.2" y2="593.0" stroke="#444" stroke-width="0.7" />
<line x1="315.7" y1="591.0" x2="315.7" y2="593.0" stroke="#444" stroke-width="0.7" />
<line x1="317.8" y1="591.0" x2="317.8" y2="593.0" stroke="#444" stroke-width="0.7" />
<line x1="319.5" y1="591.0" x2="319.5" y2="593.0" stroke="#444" stroke-width="0.7" />
<line x1="321.1" y1="591.0" x2="321.1" y2="593.0" stroke="#444" stroke-width="0.7" />
<line x1="322.4" y1="591.0" x2="322.4" y2="593.0" stroke="#444" stroke-width="0.7" />
<line x1="323.6" y1="591.0" x2="323.6" y2="594.2" stroke="#444" stroke-width="0.7" />
<line x1="331.5" y1="591.0" x2="331.5" y2="593.0" stroke="#444" stroke-width="0.7" />
<line x1="336.1" y1="591.0" x2="336.1" y2="593.0" stroke="#444" stroke-width="0.7" />
<line x1="339.4" y1="591.0" x2="339.4" y2="593.0" stroke="#444" stroke-width="0.7" />
<line x1="341.9" y1="591.0" x2="341.9" y2="593.0" stroke="#444" stroke-width="0.7" />
<line x1="344.0" y1="591.0" x2="344.0" y2="593.0" stroke="#444" stroke-width="0.7" />
<line x1="345.8" y1="591.0" x2="345.8" y2="593.0" stroke="#444" stroke-width="0.7" />
<line x1="347.3" y1="591.0" x2="347.3" y2="593.0" stroke="#444" stroke-width="0.7" />
<line x1="348.6" y1="591.0" x2="348.6" y2="593.0" stroke="#444" stroke-width="0.7" />
<line x1="349.9" y1="591.0" x2="349.9" y2="594.2" stroke="#444" stroke-width="0.7" />
<line x1="357.8" y1="591.0" x2="357.8" y2="593.0" stroke="#444" stroke-width="0.7" />
<line x1="362.4" y1="591.0" x2="362.4" y2="593.0" stroke="#444" stroke-width="0.7" />
<line x1="365.7" y1="591.0" x2="365.7" y2="593.0" stroke="#444" stroke-width="0.7" />
<line x1="368.2" y1="591.0" x2="368.2" y2="593.0" stroke="#444" stroke-width="0.7" />
<line x1="370.3" y1="591.0" x2="370.3" y2="593.0" stroke="#444" stroke-width="0.7" />
<line x1="372.0" y1="591.0" x2="372.0" y2="593.0" stroke="#444" stroke-width="0.7" />
<line x1="373.6" y1="591.0" x2="373.6" y2="593.0" stroke="#444" stroke-width="0.7" />
<line x1="374.9" y1="591.0" x2="374.9" y2="593.0" stroke="#444" stroke-width="0.7" />
<line x1="376.1" y1="591.0" x2="376.1" y2="594.2" stroke="#444" stroke-width="0.7" />
<text transform="translate(265.5,601.2) scale(1.35,1)" font-size="7.8" fill="#262626" stroke="#262626" stroke-width="0.4">10<tspan dx="0.9" dy="-2.7" font-size="5.0">0</tspan></text>
<text transform="translate(291.8,601.2) scale(1.35,1)" font-size="7.8" fill="#262626" stroke="#262626" stroke-width="0.4">10<tspan dx="0.9" dy="-2.7" font-size="5.0">1</tspan></text>
<text transform="translate(318.0,601.2) scale(1.35,1)" font-size="7.8" fill="#262626" stroke="#262626" stroke-width="0.4">10<tspan dx="0.9" dy="-2.7" font-size="5.0">2</tspan></text>
<text transform="translate(344.2,601.2) scale(1.35,1)" font-size="7.8" fill="#262626" stroke="#262626" stroke-width="0.4">10<tspan dx="0.9" dy="-2.7" font-size="5.0">3</tspan></text>
<text transform="translate(370.5,601.2) scale(1.35,1)" font-size="7.8" fill="#262626" stroke="#262626" stroke-width="0.4">10<tspan dx="0.9" dy="-2.7" font-size="5.0">4</tspan></text>
<text transform="translate(315.7,611.5) scale(1.2,1)" font-size="7.6" fill="#262626" stroke="#262626" stroke-width="0.4">PE</text>
<text transform="translate(265.8,540.5) rotate(-90) scale(0.66,1)" font-size="11.5" fill="#262626" stroke="#262626" stroke-width="0.4">128</text>
<text transform="translate(265.8,593.7) rotate(-90) scale(0.66,1)" font-size="11.5" fill="#262626" stroke="#262626" stroke-width="0.4">0</text>
<text transform="translate(256.5,576.8) rotate(-90) scale(0.73,1)" font-size="11.6" fill="#262626" stroke="#262626" stroke-width="0.4">Events</text>
<text x="327.7" y="567.6" font-size="15.4" fill="#111" stroke="#111" stroke-width="0.3" >8</text>
<path d="M271.1,667.3 L271.1,649.0 L272.0,646.7 L272.8,643.5 L273.7,640.6 L274.6,637.7 L275.5,635.0 L276.3,633.3 L277.2,630.1 L278.1,628.1 L278.9,624.9 L279.8,622.4 L280.7,625.0 L281.5,627.7 L282.4,632.0 L283.2,634.4 L284.1,638.0 L284.9,642.0 L285.8,644.5 L286.8,647.7 L287.7,652.6 L288.7,656.6 L289.6,660.0 L290.5,661.4 L291.4,662.1 L292.3,663.0 L293.2,664.4 L294.1,665.2 L295.0,666.8 L296.0,666.7 L297.0,666.8 L298.0,667.0 L299.0,667.0 L299.0,667.3 Z" fill="#9a9a9a" stroke="#222" stroke-width="1.2" stroke-linejoin="round"/>
<path d="M274.0,666.6 L274.7,666.2 L275.3,665.9 L276.0,665.3 L276.6,664.9 L277.3,664.7 L278.0,663.8 L278.7,663.3 L279.4,663.1 L280.1,662.4 L280.7,662.4 L281.4,661.2 L282.1,660.8 L282.8,659.9 L283.5,659.9 L284.3,658.1 L285.0,656.8 L285.8,656.0 L286.5,652.5 L287.3,653.7 L288.1,650.2 L288.8,647.9 L289.6,644.0 L290.4,642.9 L291.2,640.8 L292.0,639.4 L292.6,636.8 L293.2,635.5 L293.9,633.8 L294.5,632.4 L295.1,637.2 L295.8,637.4 L296.4,637.3 L297.1,634.5 L297.7,637.0 L298.3,642.2 L299.0,646.3 L299.6,648.7 L300.4,653.1 L301.2,657.2 L302.0,659.7 L302.8,661.2 L303.5,662.9 L304.2,663.9 L305.0,665.4 L305.8,665.5 L306.5,665.7 L307.2,666.1 L308.0,666.4 L308.8,666.7 L309.5,667.0" fill="none" stroke="#000" stroke-width="3.0" stroke-linejoin="round" stroke-linecap="round"/>
<path d="M274.0,666.6 L274.5,666.4 L274.9,665.9 L275.4,665.7 L275.9,665.2 L276.4,664.8 L276.8,665.1 L277.3,664.1 L277.8,664.6 L278.3,663.8 L278.9,663.6 L279.4,662.4 L279.9,663.2 L280.4,662.7 L280.9,661.2 L281.4,660.9 L281.9,660.4 L282.5,660.8 L283.0,659.4 L283.5,660.7 L284.0,659.0 L284.4,658.7 L284.9,656.3 L285.4,656.7 L285.9,654.9 L286.4,654.8 L286.8,652.8 L287.3,654.6 L287.8,652.4 L288.2,650.8 L288.7,646.1 L289.1,643.3 L289.6,641.2 L290.1,640.2 L290.6,646.0 L291.0,639.7 L291.5,643.9 L292.0,637.7 L292.5,639.8 L293.0,635.0 L293.5,634.2 L294.0,637.4 L294.5,634.7 L295.0,639.0 L295.6,632.4 L296.1,633.6 L296.6,632.5 L297.2,634.9 L297.7,642.8 L298.2,641.6 L298.6,643.5 L299.1,645.3 L299.6,650.5 L300.1,652.2 L300.6,651.9 L301.0,653.9 L301.5,656.8 L302.0,660.7 L302.5,661.4 L303.0,661.3 L303.5,662.3 L304.0,663.3 L304.5,664.6 L305.0,665.5 L305.5,665.3 L306.0,665.6 L306.5,665.7 L307.0,666.2 L307.5,666.3 L308.0,666.6 L308.5,666.6 L309.0,666.8 L309.5,667.0" fill="none" stroke="#000" stroke-width="1.5" stroke-linejoin="round" stroke-linecap="round"/>
<path d="M270.9,630.5 L271.8,630.5 L273.3,667.3 L270.9,667.3 Z" fill="#000"/>
<line x1="271.1" y1="610.0" x2="271.1" y2="667.9" stroke="#3a3a3a" stroke-width="1.3" />
<line x1="270.6" y1="667.8" x2="376.1" y2="667.8" stroke="#1c1c1c" stroke-width="1.5" />
<line x1="268.3" y1="610.0" x2="271.1" y2="610.0" stroke="#3a3a3a" stroke-width="1.0" />
<line x1="268.3" y1="624.3" x2="271.1" y2="624.3" stroke="#3a3a3a" stroke-width="1.0" />
<line x1="268.3" y1="638.6" x2="271.1" y2="638.6" stroke="#3a3a3a" stroke-width="1.0" />
<line x1="268.3" y1="653.0" x2="271.1" y2="653.0" stroke="#3a3a3a" stroke-width="1.0" />
<line x1="268.3" y1="667.3" x2="271.1" y2="667.3" stroke="#3a3a3a" stroke-width="1.0" />
<line x1="271.1" y1="667.3" x2="271.1" y2="670.5" stroke="#444" stroke-width="0.7" />
<line x1="279.0" y1="667.3" x2="279.0" y2="669.3" stroke="#444" stroke-width="0.7" />
<line x1="283.6" y1="667.3" x2="283.6" y2="669.3" stroke="#444" stroke-width="0.7" />
<line x1="286.9" y1="667.3" x2="286.9" y2="669.3" stroke="#444" stroke-width="0.7" />
<line x1="289.4" y1="667.3" x2="289.4" y2="669.3" stroke="#444" stroke-width="0.7" />
<line x1="291.5" y1="667.3" x2="291.5" y2="669.3" stroke="#444" stroke-width="0.7" />
<line x1="293.3" y1="667.3" x2="293.3" y2="669.3" stroke="#444" stroke-width="0.7" />
<line x1="294.8" y1="667.3" x2="294.8" y2="669.3" stroke="#444" stroke-width="0.7" />
<line x1="296.1" y1="667.3" x2="296.1" y2="669.3" stroke="#444" stroke-width="0.7" />
<line x1="297.4" y1="667.3" x2="297.4" y2="670.5" stroke="#444" stroke-width="0.7" />
<line x1="305.3" y1="667.3" x2="305.3" y2="669.3" stroke="#444" stroke-width="0.7" />
<line x1="309.9" y1="667.3" x2="309.9" y2="669.3" stroke="#444" stroke-width="0.7" />
<line x1="313.2" y1="667.3" x2="313.2" y2="669.3" stroke="#444" stroke-width="0.7" />
<line x1="315.7" y1="667.3" x2="315.7" y2="669.3" stroke="#444" stroke-width="0.7" />
<line x1="317.8" y1="667.3" x2="317.8" y2="669.3" stroke="#444" stroke-width="0.7" />
<line x1="319.5" y1="667.3" x2="319.5" y2="669.3" stroke="#444" stroke-width="0.7" />
<line x1="321.1" y1="667.3" x2="321.1" y2="669.3" stroke="#444" stroke-width="0.7" />
<line x1="322.4" y1="667.3" x2="322.4" y2="669.3" stroke="#444" stroke-width="0.7" />
<line x1="323.6" y1="667.3" x2="323.6" y2="670.5" stroke="#444" stroke-width="0.7" />
<line x1="331.5" y1="667.3" x2="331.5" y2="669.3" stroke="#444" stroke-width="0.7" />
<line x1="336.1" y1="667.3" x2="336.1" y2="669.3" stroke="#444" stroke-width="0.7" />
<line x1="339.4" y1="667.3" x2="339.4" y2="669.3" stroke="#444" stroke-width="0.7" />
<line x1="341.9" y1="667.3" x2="341.9" y2="669.3" stroke="#444" stroke-width="0.7" />
<line x1="344.0" y1="667.3" x2="344.0" y2="669.3" stroke="#444" stroke-width="0.7" />
<line x1="345.8" y1="667.3" x2="345.8" y2="669.3" stroke="#444" stroke-width="0.7" />
<line x1="347.3" y1="667.3" x2="347.3" y2="669.3" stroke="#444" stroke-width="0.7" />
<line x1="348.6" y1="667.3" x2="348.6" y2="669.3" stroke="#444" stroke-width="0.7" />
<line x1="349.9" y1="667.3" x2="349.9" y2="670.5" stroke="#444" stroke-width="0.7" />
<line x1="357.8" y1="667.3" x2="357.8" y2="669.3" stroke="#444" stroke-width="0.7" />
<line x1="362.4" y1="667.3" x2="362.4" y2="669.3" stroke="#444" stroke-width="0.7" />
<line x1="365.7" y1="667.3" x2="365.7" y2="669.3" stroke="#444" stroke-width="0.7" />
<line x1="368.2" y1="667.3" x2="368.2" y2="669.3" stroke="#444" stroke-width="0.7" />
<line x1="370.3" y1="667.3" x2="370.3" y2="669.3" stroke="#444" stroke-width="0.7" />
<line x1="372.0" y1="667.3" x2="372.0" y2="669.3" stroke="#444" stroke-width="0.7" />
<line x1="373.6" y1="667.3" x2="373.6" y2="669.3" stroke="#444" stroke-width="0.7" />
<line x1="374.9" y1="667.3" x2="374.9" y2="669.3" stroke="#444" stroke-width="0.7" />
<line x1="376.1" y1="667.3" x2="376.1" y2="670.5" stroke="#444" stroke-width="0.7" />
<text transform="translate(265.5,677.5) scale(1.35,1)" font-size="7.8" fill="#262626" stroke="#262626" stroke-width="0.4">10<tspan dx="0.9" dy="-2.7" font-size="5.0">0</tspan></text>
<text transform="translate(291.8,677.5) scale(1.35,1)" font-size="7.8" fill="#262626" stroke="#262626" stroke-width="0.4">10<tspan dx="0.9" dy="-2.7" font-size="5.0">1</tspan></text>
<text transform="translate(318.0,677.5) scale(1.35,1)" font-size="7.8" fill="#262626" stroke="#262626" stroke-width="0.4">10<tspan dx="0.9" dy="-2.7" font-size="5.0">2</tspan></text>
<text transform="translate(344.2,677.5) scale(1.35,1)" font-size="7.8" fill="#262626" stroke="#262626" stroke-width="0.4">10<tspan dx="0.9" dy="-2.7" font-size="5.0">3</tspan></text>
<text transform="translate(370.5,677.5) scale(1.35,1)" font-size="7.8" fill="#262626" stroke="#262626" stroke-width="0.4">10<tspan dx="0.9" dy="-2.7" font-size="5.0">4</tspan></text>
<text transform="translate(315.7,687.8) scale(1.2,1)" font-size="7.6" fill="#262626" stroke="#262626" stroke-width="0.4">PE</text>
<text transform="translate(265.8,615.9) rotate(-90) scale(0.66,1)" font-size="11.5" fill="#262626" stroke="#262626" stroke-width="0.4">128</text>
<text transform="translate(265.8,670.0) rotate(-90) scale(0.66,1)" font-size="11.5" fill="#262626" stroke="#262626" stroke-width="0.4">0</text>
<text transform="translate(256.5,652.6) rotate(-90) scale(0.73,1)" font-size="11.6" fill="#262626" stroke="#262626" stroke-width="0.4">Events</text>
<text x="328.1" y="649.1" font-size="15.4" fill="#111" stroke="#111" stroke-width="0.3" >7</text>
<path d="M401.0,443.8 L401.0,441.5 L401.9,440.7 L402.9,440.6 L403.8,439.8 L404.7,439.7 L405.6,439.2 L406.5,438.5 L407.5,438.2 L408.4,438.0 L409.4,436.0 L410.3,435.3 L411.3,433.6 L412.3,432.8 L413.2,430.9 L414.2,430.1 L415.1,428.4 L416.1,425.3 L417.1,424.1 L418.0,420.9 L419.0,419.5 L419.9,416.4 L420.9,414.4 L421.9,414.2 L422.8,413.4 L423.8,413.9 L424.7,414.6 L425.7,415.2 L426.7,418.4 L427.6,420.5 L428.6,424.3 L429.6,427.3 L430.5,430.6 L431.5,434.0 L432.4,435.8 L433.4,438.5 L434.3,440.5 L435.2,441.2 L436.2,441.5 L437.1,441.5 L438.1,442.4 L439.0,442.5 L439.0,443.8 Z" fill="#9a9a9a" stroke="#222" stroke-width="1.2" stroke-linejoin="round"/>
<path d="M421.8,442.5 L422.5,442.4 L423.2,442.4 L423.9,442.5 L424.6,442.5 L425.3,442.2 L426.0,442.1 L426.6,442.2 L427.3,441.8 L428.0,441.8 L428.7,441.9 L429.4,441.8 L430.1,441.3 L430.8,441.3 L431.5,441.2 L432.2,441.2 L432.9,440.8 L433.6,440.6 L434.4,440.0 L435.1,438.8 L435.8,439.1 L436.5,439.0 L437.2,437.4 L437.9,435.8 L438.6,435.8 L439.3,434.7 L439.9,433.5 L440.6,432.1 L441.3,431.5 L442.0,433.4 L442.6,429.4 L443.3,430.9 L443.9,428.3 L444.6,427.3 L445.2,429.6 L445.9,426.1 L446.5,424.7 L447.2,425.5 L447.8,426.2 L448.5,425.2 L449.2,427.3 L449.9,424.7 L450.5,425.5 L451.2,426.8 L451.9,425.4 L452.6,427.0 L453.3,425.6 L454.0,423.8 L454.7,423.9 L455.3,427.7 L456.0,427.6 L456.7,428.8 L457.4,427.5 L458.1,427.5 L458.8,426.0 L459.5,430.1 L460.1,427.2 L460.8,429.3 L461.5,428.8 L462.2,430.5 L462.9,431.2 L463.6,432.7 L464.3,434.5 L464.9,434.9 L465.6,435.1 L466.3,437.4 L467.0,438.2 L467.7,438.9 L468.4,438.2 L469.1,439.7 L469.7,440.6 L470.4,440.5 L471.1,441.2 L471.8,442.2 L472.5,442.0 L473.2,442.2 L473.9,442.5 L474.6,442.4 L475.2,442.4 L475.9,442.6 L476.6,442.7 L477.3,442.9 L478.0,443.0" fill="none" stroke="#000" stroke-width="2.8" stroke-linejoin="round" stroke-linecap="round"/>
<path d="M421.8,442.7 L422.3,442.4 L422.8,442.4 L423.3,442.5 L423.8,442.4 L424.4,442.3 L424.9,442.5 L425.4,442.1 L425.9,442.0 L426.4,441.8 L426.9,442.0 L427.4,441.8 L427.9,441.9 L428.4,441.5 L428.9,441.5 L429.5,441.7 L430.0,441.8 L430.5,441.5 L431.0,441.9 L431.5,441.6 L432.0,441.1 L432.5,441.1 L433.1,440.2 L433.6,440.2 L434.1,440.2 L434.6,439.5 L435.1,438.8 L435.6,438.1 L436.2,438.5 L436.7,437.5 L437.2,437.5 L437.7,437.2 L438.2,437.6 L438.6,436.4 L439.1,435.5 L439.6,435.9 L440.1,433.7 L440.6,433.3 L441.0,433.7 L441.5,432.8 L442.0,430.9 L442.5,431.0 L443.0,432.1 L443.5,429.1 L443.9,430.5 L444.4,426.9 L444.9,430.6 L445.4,428.7 L445.9,426.3 L446.4,429.3 L446.9,427.8 L447.3,423.0 L447.8,423.5 L448.3,425.0 L448.8,428.1 L449.3,423.1 L449.8,422.6 L450.3,424.3 L450.8,422.8 L451.3,425.0 L451.8,425.8 L452.3,425.3 L452.9,423.7 L453.4,423.1 L453.9,427.6 L454.4,425.6 L454.9,425.9 L455.4,426.0 L455.9,427.2 L456.4,428.5 L456.9,428.2 L457.4,427.7 L457.9,426.0 L458.4,425.6 L458.8,425.7 L459.3,430.0 L459.8,426.6 L460.3,429.5 L460.8,431.5 L461.2,429.3 L461.7,430.1 L462.2,430.7 L462.7,433.4 L463.2,433.0 L463.6,434.2 L464.1,432.2 L464.6,435.0 L465.1,434.9 L465.6,435.4 L466.0,437.1 L466.5,437.5 L467.0,438.5 L467.5,438.6 L468.0,439.2 L468.4,438.9 L468.9,439.5 L469.4,440.2 L469.9,440.2 L470.4,440.4 L470.8,441.2 L471.3,441.8 L471.8,442.2 L472.3,441.9 L472.8,442.1 L473.4,442.1 L473.9,442.3 L474.4,442.6 L474.9,442.5 L475.4,442.5 L475.9,442.6 L476.4,442.7 L477.0,442.9 L477.5,442.9 L478.0,442.9" fill="none" stroke="#000" stroke-width="1.5" stroke-linejoin="round" stroke-linecap="round"/>
<path d="M400.8,416.5 L401.7,416.5 L402.9,443.8 L400.8,443.8 Z" fill="#000"/>
<line x1="401.0" y1="389.6" x2="401.0" y2="444.4" stroke="#3a3a3a" stroke-width="1.3" />
<line x1="400.5" y1="444.3" x2="507.8" y2="444.3" stroke="#1c1c1c" stroke-width="1.5" />
<line x1="398.2" y1="389.6" x2="401.0" y2="389.6" stroke="#3a3a3a" stroke-width="1.0" />
<line x1="398.2" y1="403.2" x2="401.0" y2="403.2" stroke="#3a3a3a" stroke-width="1.0" />
<line x1="398.2" y1="416.7" x2="401.0" y2="416.7" stroke="#3a3a3a" stroke-width="1.0" />
<line x1="398.2" y1="430.2" x2="401.0" y2="430.2" stroke="#3a3a3a" stroke-width="1.0" />
<line x1="398.2" y1="443.8" x2="401.0" y2="443.8" stroke="#3a3a3a" stroke-width="1.0" />
<line x1="401.0" y1="443.8" x2="401.0" y2="447.0" stroke="#444" stroke-width="0.7" />
<line x1="409.0" y1="443.8" x2="409.0" y2="445.8" stroke="#444" stroke-width="0.7" />
<line x1="413.7" y1="443.8" x2="413.7" y2="445.8" stroke="#444" stroke-width="0.7" />
<line x1="417.1" y1="443.8" x2="417.1" y2="445.8" stroke="#444" stroke-width="0.7" />
<line x1="419.7" y1="443.8" x2="419.7" y2="445.8" stroke="#444" stroke-width="0.7" />
<line x1="421.8" y1="443.8" x2="421.8" y2="445.8" stroke="#444" stroke-width="0.7" />
<line x1="423.6" y1="443.8" x2="423.6" y2="445.8" stroke="#444" stroke-width="0.7" />
<line x1="425.1" y1="443.8" x2="425.1" y2="445.8" stroke="#444" stroke-width="0.7" />
<line x1="426.5" y1="443.8" x2="426.5" y2="445.8" stroke="#444" stroke-width="0.7" />
<line x1="427.7" y1="443.8" x2="427.7" y2="447.0" stroke="#444" stroke-width="0.7" />
<line x1="435.7" y1="443.8" x2="435.7" y2="445.8" stroke="#444" stroke-width="0.7" />
<line x1="440.4" y1="443.8" x2="440.4" y2="445.8" stroke="#444" stroke-width="0.7" />
<line x1="443.8" y1="443.8" x2="443.8" y2="445.8" stroke="#444" stroke-width="0.7" />
<line x1="446.4" y1="443.8" x2="446.4" y2="445.8" stroke="#444" stroke-width="0.7" />
<line x1="448.5" y1="443.8" x2="448.5" y2="445.8" stroke="#444" stroke-width="0.7" />
<line x1="450.3" y1="443.8" x2="450.3" y2="445.8" stroke="#444" stroke-width="0.7" />
<line x1="451.8" y1="443.8" x2="451.8" y2="445.8" stroke="#444" stroke-width="0.7" />
<line x1="453.2" y1="443.8" x2="453.2" y2="445.8" stroke="#444" stroke-width="0.7" />
<line x1="454.4" y1="443.8" x2="454.4" y2="447.0" stroke="#444" stroke-width="0.7" />
<line x1="462.4" y1="443.8" x2="462.4" y2="445.8" stroke="#444" stroke-width="0.7" />
<line x1="467.1" y1="443.8" x2="467.1" y2="445.8" stroke="#444" stroke-width="0.7" />
<line x1="470.5" y1="443.8" x2="470.5" y2="445.8" stroke="#444" stroke-width="0.7" />
<line x1="473.1" y1="443.8" x2="473.1" y2="445.8" stroke="#444" stroke-width="0.7" />
<line x1="475.2" y1="443.8" x2="475.2" y2="445.8" stroke="#444" stroke-width="0.7" />
<line x1="477.0" y1="443.8" x2="477.0" y2="445.8" stroke="#444" stroke-width="0.7" />
<line x1="478.5" y1="443.8" x2="478.5" y2="445.8" stroke="#444" stroke-width="0.7" />
<line x1="479.9" y1="443.8" x2="479.9" y2="445.8" stroke="#444" stroke-width="0.7" />
<line x1="481.1" y1="443.8" x2="481.1" y2="447.0" stroke="#444" stroke-width="0.7" />
<line x1="489.1" y1="443.8" x2="489.1" y2="445.8" stroke="#444" stroke-width="0.7" />
<line x1="493.8" y1="443.8" x2="493.8" y2="445.8" stroke="#444" stroke-width="0.7" />
<line x1="497.2" y1="443.8" x2="497.2" y2="445.8" stroke="#444" stroke-width="0.7" />
<line x1="499.8" y1="443.8" x2="499.8" y2="445.8" stroke="#444" stroke-width="0.7" />
<line x1="501.9" y1="443.8" x2="501.9" y2="445.8" stroke="#444" stroke-width="0.7" />
<line x1="503.7" y1="443.8" x2="503.7" y2="445.8" stroke="#444" stroke-width="0.7" />
<line x1="505.2" y1="443.8" x2="505.2" y2="445.8" stroke="#444" stroke-width="0.7" />
<line x1="506.6" y1="443.8" x2="506.6" y2="445.8" stroke="#444" stroke-width="0.7" />
<line x1="507.8" y1="443.8" x2="507.8" y2="447.0" stroke="#444" stroke-width="0.7" />
<text transform="translate(395.4,454.0) scale(1.35,1)" font-size="7.8" fill="#262626" stroke="#262626" stroke-width="0.4">10<tspan dx="0.9" dy="-2.7" font-size="5.0">0</tspan></text>
<text transform="translate(422.1,454.0) scale(1.35,1)" font-size="7.8" fill="#262626" stroke="#262626" stroke-width="0.4">10<tspan dx="0.9" dy="-2.7" font-size="5.0">1</tspan></text>
<text transform="translate(448.8,454.0) scale(1.35,1)" font-size="7.8" fill="#262626" stroke="#262626" stroke-width="0.4">10<tspan dx="0.9" dy="-2.7" font-size="5.0">2</tspan></text>
<text transform="translate(475.5,454.0) scale(1.35,1)" font-size="7.8" fill="#262626" stroke="#262626" stroke-width="0.4">10<tspan dx="0.9" dy="-2.7" font-size="5.0">3</tspan></text>
<text transform="translate(502.2,454.0) scale(1.35,1)" font-size="7.8" fill="#262626" stroke="#262626" stroke-width="0.4">10<tspan dx="0.9" dy="-2.7" font-size="5.0">4</tspan></text>
<text transform="translate(446.4,464.3) scale(1.2,1)" font-size="7.6" fill="#262626" stroke="#262626" stroke-width="0.4">PE</text>
<text transform="translate(395.7,395.5) rotate(-90) scale(0.66,1)" font-size="11.5" fill="#262626" stroke="#262626" stroke-width="0.4">128</text>
<text transform="translate(395.7,446.5) rotate(-90) scale(0.66,1)" font-size="11.5" fill="#262626" stroke="#262626" stroke-width="0.4">0</text>
<text transform="translate(386.4,430.7) rotate(-90) scale(0.73,1)" font-size="11.6" fill="#262626" stroke="#262626" stroke-width="0.4">Events</text>
<text x="463.7" y="406.3" font-size="15.4" fill="#111" stroke="#111" stroke-width="0.3" >75</text>
<path d="M400.0,517.0 L400.0,515.6 L400.9,514.8 L401.9,514.7 L402.8,514.0 L403.7,513.2 L404.6,512.8 L405.6,512.5 L406.5,511.3 L407.4,510.2 L408.4,509.0 L409.4,508.2 L410.3,506.6 L411.2,504.8 L412.2,504.1 L413.2,501.3 L414.1,499.1 L415.1,497.2 L416.0,495.5 L417.0,493.1 L418.0,491.4 L419.0,489.1 L420.0,486.6 L420.9,486.3 L421.9,487.0 L422.9,486.7 L423.8,487.4 L424.8,490.2 L425.7,492.5 L426.7,496.1 L427.6,499.5 L428.6,502.8 L429.5,506.8 L430.5,509.1 L431.4,510.9 L432.4,512.7 L433.4,514.5 L434.4,514.7 L435.3,514.9 L436.3,515.4 L437.2,515.9 L438.2,516.0 L438.2,517.0 Z" fill="#9a9a9a" stroke="#222" stroke-width="1.2" stroke-linejoin="round"/>
<path d="M421.8,516.0 L422.5,515.7 L423.2,515.5 L424.0,515.2 L424.7,514.9 L425.4,515.2 L426.1,514.8 L426.9,514.8 L427.6,514.5 L428.3,514.0 L429.1,514.3 L429.8,514.1 L430.5,513.5 L431.2,512.4 L431.9,511.9 L432.6,511.0 L433.2,510.5 L433.9,509.3 L434.6,509.8 L435.3,509.7 L436.0,506.9 L436.7,507.3 L437.4,505.7 L438.0,504.2 L438.7,504.7 L439.4,501.6 L440.1,502.3 L440.8,498.3 L441.6,501.8 L442.3,497.6 L443.0,496.0 L443.7,499.7 L444.4,498.2 L445.2,497.4 L445.9,497.3 L446.6,495.8 L447.3,495.2 L448.0,497.0 L448.6,500.7 L449.3,501.5 L450.0,498.7 L450.7,500.4 L451.4,501.3 L452.1,503.9 L452.9,501.5 L453.6,505.3 L454.3,504.3 L455.1,506.1 L455.8,505.9 L456.5,506.8 L457.2,509.4 L457.9,509.2 L458.6,510.8 L459.4,511.3 L460.1,511.7 L460.8,511.5 L461.5,512.9 L462.2,513.9 L462.9,513.8 L463.6,513.7 L464.3,514.1 L465.0,514.9 L465.7,515.2 L466.4,515.0 L467.1,515.4 L467.8,515.8 L468.5,516.0" fill="none" stroke="#000" stroke-width="3.0" stroke-linejoin="round" stroke-linecap="round"/>
<path d="M421.8,515.9 L422.3,516.0 L422.8,515.8 L423.3,515.5 L423.8,515.2 L424.4,515.3 L424.9,515.3 L425.4,514.8 L425.9,514.5 L426.4,514.8 L426.9,514.9 L427.4,514.3 L427.9,514.2 L428.5,514.2 L429.0,514.0 L429.5,513.4 L430.0,513.4 L430.5,513.2 L431.0,512.6 L431.5,512.0 L431.9,511.9 L432.4,511.1 L432.9,511.8 L433.4,510.3 L433.9,511.2 L434.3,510.4 L434.8,508.6 L435.3,507.8 L435.8,508.1 L436.3,507.1 L436.7,506.5 L437.2,504.2 L437.7,505.0 L438.2,505.2 L438.7,503.1 L439.1,501.4 L439.6,503.8 L440.1,500.0 L440.6,503.2 L441.1,501.2 L441.6,496.9 L442.0,499.0 L442.5,496.8 L443.0,500.1 L443.5,497.5 L444.0,495.0 L444.4,500.0 L444.9,498.6 L445.4,496.9 L445.9,496.3 L446.4,493.5 L446.9,499.9 L447.3,496.0 L447.8,497.9 L448.3,498.1 L448.8,498.5 L449.3,496.4 L449.7,501.8 L450.2,500.1 L450.7,500.0 L451.2,503.0 L451.7,503.6 L452.1,503.4 L452.6,504.8 L453.1,503.0 L453.6,502.6 L454.1,504.2 L454.6,505.8 L455.1,507.0 L455.5,507.4 L456.0,507.6 L456.5,508.1 L457.0,508.8 L457.5,509.0 L458.1,508.2 L458.6,510.0 L459.1,509.9 L459.6,510.1 L460.1,511.6 L460.6,512.5 L461.2,512.1 L461.7,513.2 L462.2,513.6 L462.7,513.9 L463.2,514.3 L463.7,514.3 L464.1,513.9 L464.6,514.6 L465.1,514.5 L465.6,514.8 L466.1,515.1 L466.6,515.0 L467.0,515.5 L467.5,515.8 L468.0,515.6 L468.5,516.1" fill="none" stroke="#000" stroke-width="1.5" stroke-linejoin="round" stroke-linecap="round"/>
<path d="M399.8,488.7 L400.7,488.7 L401.9,517.0 L399.8,517.0 Z" fill="#000"/>
<line x1="400.0" y1="461.9" x2="400.0" y2="517.6" stroke="#3a3a3a" stroke-width="1.3" />
<line x1="399.5" y1="517.5" x2="506.0" y2="517.5" stroke="#1c1c1c" stroke-width="1.5" />
<line x1="397.2" y1="461.9" x2="400.0" y2="461.9" stroke="#3a3a3a" stroke-width="1.0" />
<line x1="397.2" y1="475.7" x2="400.0" y2="475.7" stroke="#3a3a3a" stroke-width="1.0" />
<line x1="397.2" y1="489.4" x2="400.0" y2="489.4" stroke="#3a3a3a" stroke-width="1.0" />
<line x1="397.2" y1="503.2" x2="400.0" y2="503.2" stroke="#3a3a3a" stroke-width="1.0" />
<line x1="397.2" y1="517.0" x2="400.0" y2="517.0" stroke="#3a3a3a" stroke-width="1.0" />
<line x1="400.0" y1="517.0" x2="400.0" y2="520.2" stroke="#444" stroke-width="0.7" />
<line x1="408.0" y1="517.0" x2="408.0" y2="519.0" stroke="#444" stroke-width="0.7" />
<line x1="412.6" y1="517.0" x2="412.6" y2="519.0" stroke="#444" stroke-width="0.7" />
<line x1="416.0" y1="517.0" x2="416.0" y2="519.0" stroke="#444" stroke-width="0.7" />
<line x1="418.5" y1="517.0" x2="418.5" y2="519.0" stroke="#444" stroke-width="0.7" />
<line x1="420.6" y1="517.0" x2="420.6" y2="519.0" stroke="#444" stroke-width="0.7" />
<line x1="422.4" y1="517.0" x2="422.4" y2="519.0" stroke="#444" stroke-width="0.7" />
<line x1="423.9" y1="517.0" x2="423.9" y2="519.0" stroke="#444" stroke-width="0.7" />
<line x1="425.3" y1="517.0" x2="425.3" y2="519.0" stroke="#444" stroke-width="0.7" />
<line x1="426.5" y1="517.0" x2="426.5" y2="520.2" stroke="#444" stroke-width="0.7" />
<line x1="434.5" y1="517.0" x2="434.5" y2="519.0" stroke="#444" stroke-width="0.7" />
<line x1="439.1" y1="517.0" x2="439.1" y2="519.0" stroke="#444" stroke-width="0.7" />
<line x1="442.5" y1="517.0" x2="442.5" y2="519.0" stroke="#444" stroke-width="0.7" />
<line x1="445.0" y1="517.0" x2="445.0" y2="519.0" stroke="#444" stroke-width="0.7" />
<line x1="447.1" y1="517.0" x2="447.1" y2="519.0" stroke="#444" stroke-width="0.7" />
<line x1="448.9" y1="517.0" x2="448.9" y2="519.0" stroke="#444" stroke-width="0.7" />
<line x1="450.4" y1="517.0" x2="450.4" y2="519.0" stroke="#444" stroke-width="0.7" />
<line x1="451.8" y1="517.0" x2="451.8" y2="519.0" stroke="#444" stroke-width="0.7" />
<line x1="453.0" y1="517.0" x2="453.0" y2="520.2" stroke="#444" stroke-width="0.7" />
<line x1="461.0" y1="517.0" x2="461.0" y2="519.0" stroke="#444" stroke-width="0.7" />
<line x1="465.6" y1="517.0" x2="465.6" y2="519.0" stroke="#444" stroke-width="0.7" />
<line x1="469.0" y1="517.0" x2="469.0" y2="519.0" stroke="#444" stroke-width="0.7" />
<line x1="471.5" y1="517.0" x2="471.5" y2="519.0" stroke="#444" stroke-width="0.7" />
<line x1="473.6" y1="517.0" x2="473.6" y2="519.0" stroke="#444" stroke-width="0.7" />
<line x1="475.4" y1="517.0" x2="475.4" y2="519.0" stroke="#444" stroke-width="0.7" />
<line x1="476.9" y1="517.0" x2="476.9" y2="519.0" stroke="#444" stroke-width="0.7" />
<line x1="478.3" y1="517.0" x2="478.3" y2="519.0" stroke="#444" stroke-width="0.7" />
<line x1="479.5" y1="517.0" x2="479.5" y2="520.2" stroke="#444" stroke-width="0.7" />
<line x1="487.5" y1="517.0" x2="487.5" y2="519.0" stroke="#444" stroke-width="0.7" />
<line x1="492.1" y1="517.0" x2="492.1" y2="519.0" stroke="#444" stroke-width="0.7" />
<line x1="495.5" y1="517.0" x2="495.5" y2="519.0" stroke="#444" stroke-width="0.7" />
<line x1="498.0" y1="517.0" x2="498.0" y2="519.0" stroke="#444" stroke-width="0.7" />
<line x1="500.1" y1="517.0" x2="500.1" y2="519.0" stroke="#444" stroke-width="0.7" />
<line x1="501.9" y1="517.0" x2="501.9" y2="519.0" stroke="#444" stroke-width="0.7" />
<line x1="503.4" y1="517.0" x2="503.4" y2="519.0" stroke="#444" stroke-width="0.7" />
<line x1="504.8" y1="517.0" x2="504.8" y2="519.0" stroke="#444" stroke-width="0.7" />
<line x1="506.0" y1="517.0" x2="506.0" y2="520.2" stroke="#444" stroke-width="0.7" />
<text transform="translate(394.4,527.2) scale(1.35,1)" font-size="7.8" fill="#262626" stroke="#262626" stroke-width="0.4">10<tspan dx="0.9" dy="-2.7" font-size="5.0">0</tspan></text>
<text transform="translate(420.9,527.2) scale(1.35,1)" font-size="7.8" fill="#262626" stroke="#262626" stroke-width="0.4">10<tspan dx="0.9" dy="-2.7" font-size="5.0">1</tspan></text>
<text transform="translate(447.4,527.2) scale(1.35,1)" font-size="7.8" fill="#262626" stroke="#262626" stroke-width="0.4">10<tspan dx="0.9" dy="-2.7" font-size="5.0">2</tspan></text>
<text transform="translate(473.9,527.2) scale(1.35,1)" font-size="7.8" fill="#262626" stroke="#262626" stroke-width="0.4">10<tspan dx="0.9" dy="-2.7" font-size="5.0">3</tspan></text>
<text transform="translate(500.4,527.2) scale(1.35,1)" font-size="7.8" fill="#262626" stroke="#262626" stroke-width="0.4">10<tspan dx="0.9" dy="-2.7" font-size="5.0">4</tspan></text>
<text transform="translate(445.1,537.5) scale(1.2,1)" font-size="7.6" fill="#262626" stroke="#262626" stroke-width="0.4">PE</text>
<text transform="translate(394.7,467.8) rotate(-90) scale(0.66,1)" font-size="11.5" fill="#262626" stroke="#262626" stroke-width="0.4">128</text>
<text transform="translate(394.7,519.7) rotate(-90) scale(0.66,1)" font-size="11.5" fill="#262626" stroke="#262626" stroke-width="0.4">0</text>
<text transform="translate(385.4,503.4) rotate(-90) scale(0.73,1)" font-size="11.6" fill="#262626" stroke="#262626" stroke-width="0.4">Events</text>
<text x="463.7" y="489.8" font-size="15.4" fill="#111" stroke="#111" stroke-width="0.3" >59</text>
<path d="M399.2,594.4 L399.2,593.0 L400.1,592.5 L401.0,591.7 L401.9,591.4 L402.7,590.4 L403.6,590.0 L404.5,589.6 L405.5,588.0 L406.4,587.1 L407.4,585.4 L408.4,584.1 L409.3,583.3 L410.3,582.1 L411.3,580.2 L412.2,577.7 L413.2,575.5 L414.1,573.2 L415.1,572.1 L416.1,569.2 L417.1,567.6 L418.0,565.7 L419.0,564.3 L420.0,562.3 L420.9,562.5 L421.9,563.4 L422.9,562.2 L423.8,562.3 L424.8,565.8 L425.7,569.6 L426.7,573.8 L427.6,577.1 L428.6,580.8 L429.5,583.7 L430.5,586.1 L431.4,588.1 L432.4,590.1 L433.4,592.4 L434.3,593.0 L435.3,593.1 L436.2,593.7 L437.2,594.1 L437.2,594.4 Z" fill="#9a9a9a" stroke="#222" stroke-width="1.2" stroke-linejoin="round"/>
<path d="M418.0,594.1 L418.7,593.5 L419.4,593.2 L420.2,592.8 L420.9,592.2 L421.6,591.7 L422.4,591.3 L423.1,590.6 L423.8,590.7 L424.5,589.4 L425.2,587.2 L426.0,584.6 L426.7,583.8 L427.4,583.6 L428.1,581.0 L428.8,578.9 L429.5,577.7 L430.2,578.7 L430.9,577.3 L431.7,574.7 L432.4,575.2 L433.1,575.1 L433.7,575.5 L434.4,574.1 L435.0,571.2 L435.7,572.6 L436.4,573.9 L437.1,574.2 L437.8,574.3 L438.5,574.2 L439.2,574.6 L439.9,575.5 L440.6,573.6 L441.2,573.3 L441.9,569.9 L442.6,568.3 L443.4,571.4 L444.2,575.1 L445.0,577.0 L445.7,577.4 L446.4,579.4 L447.1,583.6 L447.8,583.0 L448.4,585.9 L449.1,586.4 L449.8,586.8 L450.4,588.4 L451.1,588.7 L451.7,588.7 L452.4,590.2 L453.0,590.0 L453.7,590.9 L454.4,591.2 L455.0,591.1 L455.7,591.5 L456.4,591.9 L457.1,592.7 L457.7,593.1 L458.4,593.3 L459.1,593.4 L459.8,593.6 L460.4,593.8 L461.1,593.9 L461.8,594.0 L462.5,594.1 L463.1,594.1 L463.8,594.1 L464.5,594.1" fill="none" stroke="#000" stroke-width="3.0" stroke-linejoin="round" stroke-linecap="round"/>
<path d="M418.0,594.1 L418.5,593.9 L419.0,593.5 L419.4,593.1 L419.9,592.6 L420.4,592.4 L420.9,592.1 L421.4,591.9 L421.9,591.5 L422.4,590.9 L422.8,590.5 L423.3,590.3 L423.8,589.8 L424.3,588.6 L424.8,588.1 L425.2,586.3 L425.7,587.0 L426.2,585.3 L426.7,584.0 L427.2,583.7 L427.6,581.3 L428.1,579.5 L428.6,578.8 L429.0,579.0 L429.5,578.2 L430.0,576.9 L430.5,576.4 L430.9,578.6 L431.4,573.1 L431.9,575.0 L432.4,573.9 L432.9,572.6 L433.3,575.0 L433.8,571.1 L434.3,569.2 L434.8,569.4 L435.2,574.9 L435.7,569.6 L436.2,568.5 L436.7,575.3 L437.2,573.4 L437.7,576.1 L438.2,572.3 L438.7,576.0 L439.2,571.6 L439.7,572.2 L440.2,575.4 L440.7,572.9 L441.1,574.3 L441.6,570.9 L442.1,574.0 L442.6,567.4 L443.1,572.7 L443.6,570.9 L444.0,572.3 L444.5,577.8 L445.0,576.3 L445.5,579.6 L445.9,578.1 L446.4,581.4 L446.9,583.3 L447.3,583.3 L447.8,583.2 L448.3,585.3 L448.8,586.7 L449.3,586.9 L449.8,586.6 L450.2,587.1 L450.7,587.2 L451.2,589.1 L451.7,588.7 L452.2,589.2 L452.7,589.3 L453.2,589.8 L453.8,590.4 L454.3,590.9 L454.8,590.9 L455.3,591.4 L455.8,592.0 L456.3,591.8 L456.9,592.2 L457.4,592.8 L457.9,593.3 L458.4,593.5 L458.9,593.5 L459.4,593.5 L459.9,593.8 L460.4,593.9 L460.9,593.9 L461.4,594.0 L462.0,594.0 L462.5,594.1 L463.0,594.1 L463.5,594.1 L464.0,594.1 L464.5,594.1" fill="none" stroke="#000" stroke-width="1.5" stroke-linejoin="round" stroke-linecap="round"/>
<path d="M399.0,565.5 L399.9,565.5 L401.1,594.4 L399.0,594.4 Z" fill="#000"/>
<line x1="399.2" y1="536.4" x2="399.2" y2="595.0" stroke="#3a3a3a" stroke-width="1.3" />
<line x1="398.7" y1="594.9" x2="506.2" y2="594.9" stroke="#1c1c1c" stroke-width="1.5" />
<line x1="396.4" y1="536.4" x2="399.2" y2="536.4" stroke="#3a3a3a" stroke-width="1.0" />
<line x1="396.4" y1="550.9" x2="399.2" y2="550.9" stroke="#3a3a3a" stroke-width="1.0" />
<line x1="396.4" y1="565.4" x2="399.2" y2="565.4" stroke="#3a3a3a" stroke-width="1.0" />
<line x1="396.4" y1="579.9" x2="399.2" y2="579.9" stroke="#3a3a3a" stroke-width="1.0" />
<line x1="396.4" y1="594.4" x2="399.2" y2="594.4" stroke="#3a3a3a" stroke-width="1.0" />
<line x1="399.2" y1="594.4" x2="399.2" y2="597.6" stroke="#444" stroke-width="0.7" />
<line x1="407.3" y1="594.4" x2="407.3" y2="596.4" stroke="#444" stroke-width="0.7" />
<line x1="412.0" y1="594.4" x2="412.0" y2="596.4" stroke="#444" stroke-width="0.7" />
<line x1="415.3" y1="594.4" x2="415.3" y2="596.4" stroke="#444" stroke-width="0.7" />
<line x1="417.9" y1="594.4" x2="417.9" y2="596.4" stroke="#444" stroke-width="0.7" />
<line x1="420.0" y1="594.4" x2="420.0" y2="596.4" stroke="#444" stroke-width="0.7" />
<line x1="421.8" y1="594.4" x2="421.8" y2="596.4" stroke="#444" stroke-width="0.7" />
<line x1="423.4" y1="594.4" x2="423.4" y2="596.4" stroke="#444" stroke-width="0.7" />
<line x1="424.7" y1="594.4" x2="424.7" y2="596.4" stroke="#444" stroke-width="0.7" />
<line x1="425.9" y1="594.4" x2="425.9" y2="597.6" stroke="#444" stroke-width="0.7" />
<line x1="434.0" y1="594.4" x2="434.0" y2="596.4" stroke="#444" stroke-width="0.7" />
<line x1="438.7" y1="594.4" x2="438.7" y2="596.4" stroke="#444" stroke-width="0.7" />
<line x1="442.1" y1="594.4" x2="442.1" y2="596.4" stroke="#444" stroke-width="0.7" />
<line x1="444.6" y1="594.4" x2="444.6" y2="596.4" stroke="#444" stroke-width="0.7" />
<line x1="446.8" y1="594.4" x2="446.8" y2="596.4" stroke="#444" stroke-width="0.7" />
<line x1="448.6" y1="594.4" x2="448.6" y2="596.4" stroke="#444" stroke-width="0.7" />
<line x1="450.1" y1="594.4" x2="450.1" y2="596.4" stroke="#444" stroke-width="0.7" />
<line x1="451.5" y1="594.4" x2="451.5" y2="596.4" stroke="#444" stroke-width="0.7" />
<line x1="452.7" y1="594.4" x2="452.7" y2="597.6" stroke="#444" stroke-width="0.7" />
<line x1="460.8" y1="594.4" x2="460.8" y2="596.4" stroke="#444" stroke-width="0.7" />
<line x1="465.5" y1="594.4" x2="465.5" y2="596.4" stroke="#444" stroke-width="0.7" />
<line x1="468.8" y1="594.4" x2="468.8" y2="596.4" stroke="#444" stroke-width="0.7" />
<line x1="471.4" y1="594.4" x2="471.4" y2="596.4" stroke="#444" stroke-width="0.7" />
<line x1="473.5" y1="594.4" x2="473.5" y2="596.4" stroke="#444" stroke-width="0.7" />
<line x1="475.3" y1="594.4" x2="475.3" y2="596.4" stroke="#444" stroke-width="0.7" />
<line x1="476.9" y1="594.4" x2="476.9" y2="596.4" stroke="#444" stroke-width="0.7" />
<line x1="478.2" y1="594.4" x2="478.2" y2="596.4" stroke="#444" stroke-width="0.7" />
<line x1="479.4" y1="594.4" x2="479.4" y2="597.6" stroke="#444" stroke-width="0.7" />
<line x1="487.5" y1="594.4" x2="487.5" y2="596.4" stroke="#444" stroke-width="0.7" />
<line x1="492.2" y1="594.4" x2="492.2" y2="596.4" stroke="#444" stroke-width="0.7" />
<line x1="495.6" y1="594.4" x2="495.6" y2="596.4" stroke="#444" stroke-width="0.7" />
<line x1="498.1" y1="594.4" x2="498.1" y2="596.4" stroke="#444" stroke-width="0.7" />
<line x1="500.3" y1="594.4" x2="500.3" y2="596.4" stroke="#444" stroke-width="0.7" />
<line x1="502.1" y1="594.4" x2="502.1" y2="596.4" stroke="#444" stroke-width="0.7" />
<line x1="503.6" y1="594.4" x2="503.6" y2="596.4" stroke="#444" stroke-width="0.7" />
<line x1="505.0" y1="594.4" x2="505.0" y2="596.4" stroke="#444" stroke-width="0.7" />
<line x1="506.2" y1="594.4" x2="506.2" y2="597.6" stroke="#444" stroke-width="0.7" />
<text transform="translate(393.6,604.6) scale(1.35,1)" font-size="7.8" fill="#262626" stroke="#262626" stroke-width="0.4">10<tspan dx="0.9" dy="-2.7" font-size="5.0">0</tspan></text>
<text transform="translate(420.3,604.6) scale(1.35,1)" font-size="7.8" fill="#262626" stroke="#262626" stroke-width="0.4">10<tspan dx="0.9" dy="-2.7" font-size="5.0">1</tspan></text>
<text transform="translate(447.1,604.6) scale(1.35,1)" font-size="7.8" fill="#262626" stroke="#262626" stroke-width="0.4">10<tspan dx="0.9" dy="-2.7" font-size="5.0">2</tspan></text>
<text transform="translate(473.8,604.6) scale(1.35,1)" font-size="7.8" fill="#262626" stroke="#262626" stroke-width="0.4">10<tspan dx="0.9" dy="-2.7" font-size="5.0">3</tspan></text>
<text transform="translate(500.6,604.6) scale(1.35,1)" font-size="7.8" fill="#262626" stroke="#262626" stroke-width="0.4">10<tspan dx="0.9" dy="-2.7" font-size="5.0">4</tspan></text>
<text transform="translate(444.7,614.9) scale(1.2,1)" font-size="7.6" fill="#262626" stroke="#262626" stroke-width="0.4">PE</text>
<text transform="translate(393.9,542.3) rotate(-90) scale(0.66,1)" font-size="11.5" fill="#262626" stroke="#262626" stroke-width="0.4">128</text>
<text transform="translate(393.9,597.1) rotate(-90) scale(0.66,1)" font-size="11.5" fill="#262626" stroke="#262626" stroke-width="0.4">0</text>
<text transform="translate(384.6,579.4) rotate(-90) scale(0.73,1)" font-size="11.6" fill="#262626" stroke="#262626" stroke-width="0.4">Events</text>
<text x="463.5" y="560.0" font-size="15.4" fill="#111" stroke="#111" stroke-width="0.3" >26</text>
<path d="M399.0,664.4 L399.0,662.9 L399.9,662.4 L400.8,662.1 L401.8,661.3 L402.7,660.8 L403.6,659.9 L404.5,659.5 L405.5,658.6 L406.4,657.8 L407.4,656.1 L408.4,655.4 L409.3,654.7 L410.3,653.6 L411.3,651.4 L412.2,649.3 L413.2,647.8 L414.1,645.9 L415.1,643.8 L416.1,642.3 L417.1,640.3 L418.0,637.3 L419.0,635.6 L419.9,636.3 L420.8,636.4 L421.6,636.6 L422.5,637.1 L423.4,636.6 L424.4,641.2 L425.3,646.4 L426.1,648.9 L427.0,651.6 L427.8,654.2 L428.6,657.0 L429.6,658.5 L430.5,660.0 L431.4,661.3 L432.4,662.6 L433.4,662.6 L434.3,663.2 L435.3,663.2 L436.2,663.8 L437.2,663.8 L437.2,664.4 Z" fill="#9a9a9a" stroke="#222" stroke-width="1.2" stroke-linejoin="round"/>
<path d="M414.2,663.8 L414.9,663.5 L415.6,663.4 L416.3,663.0 L417.0,662.9 L417.7,662.8 L418.3,662.8 L419.0,662.5 L419.7,662.2 L420.4,662.1 L421.1,661.5 L421.8,661.6 L422.4,661.2 L423.1,659.6 L423.8,659.7 L424.4,659.1 L425.1,657.5 L425.7,657.5 L426.4,656.6 L427.1,653.3 L427.9,652.7 L428.6,651.7 L429.3,652.0 L430.0,649.9 L430.7,651.1 L431.3,650.6 L432.0,650.8 L432.7,649.9 L433.4,650.1 L434.1,647.9 L434.9,646.5 L435.6,645.0 L436.3,643.5 L436.9,643.4 L437.6,643.1 L438.2,642.2 L438.8,640.4 L439.4,642.5 L440.1,645.9 L440.7,643.5 L441.4,647.4 L442.0,647.4 L442.6,646.9 L443.3,647.3 L443.9,650.9 L444.6,652.3 L445.2,651.5 L445.9,653.7 L446.6,654.8 L447.3,655.4 L448.0,655.3 L448.6,656.5 L449.3,658.2 L450.0,659.0 L450.7,659.9 L451.4,659.9 L452.1,661.0 L452.9,661.3 L453.6,661.5 L454.3,662.2 L455.1,662.4 L455.8,662.9 L456.5,663.4 L457.2,663.6 L457.8,663.7 L458.5,663.7 L459.2,663.8 L459.8,663.9 L460.5,664.0 L461.2,664.1 L461.8,664.1 L462.5,664.1" fill="none" stroke="#000" stroke-width="3.0" stroke-linejoin="round" stroke-linecap="round"/>
<path d="M414.2,663.8 L414.7,663.6 L415.2,663.5 L415.7,663.2 L416.2,663.0 L416.7,662.9 L417.2,663.1 L417.7,662.8 L418.3,662.8 L418.8,662.7 L419.3,662.3 L419.8,662.4 L420.3,661.9 L420.8,661.9 L421.3,661.4 L421.8,661.4 L422.3,660.5 L422.8,660.3 L423.3,660.5 L423.8,660.0 L424.2,659.1 L424.7,657.1 L425.2,658.6 L425.7,657.0 L426.2,656.5 L426.7,654.8 L427.1,655.1 L427.6,652.6 L428.1,650.8 L428.6,651.2 L429.1,649.8 L429.6,649.7 L430.0,649.3 L430.5,651.2 L431.0,650.9 L431.5,648.5 L432.0,650.4 L432.4,647.0 L432.9,651.2 L433.4,647.4 L433.9,648.0 L434.4,646.4 L434.9,648.4 L435.3,645.2 L435.8,642.7 L436.3,646.4 L436.8,644.2 L437.3,641.7 L437.8,644.4 L438.3,645.4 L438.8,644.0 L439.3,644.9 L439.9,642.5 L440.4,642.4 L440.9,641.9 L441.5,647.7 L442.0,644.3 L442.5,646.1 L443.0,649.4 L443.5,646.7 L443.9,651.6 L444.4,650.8 L444.9,650.1 L445.4,653.6 L445.9,653.9 L446.4,652.5 L446.9,654.5 L447.3,655.8 L447.8,655.2 L448.3,656.1 L448.8,658.0 L449.3,657.0 L449.7,657.9 L450.2,658.4 L450.7,659.7 L451.2,659.9 L451.7,660.0 L452.1,660.1 L452.6,660.5 L453.1,661.5 L453.6,661.6 L454.1,662.1 L454.6,661.9 L455.1,662.8 L455.5,662.9 L456.0,663.1 L456.5,663.5 L457.0,663.3 L457.5,663.6 L458.0,663.6 L458.5,663.6 L459.0,663.8 L459.5,663.8 L460.0,664.0 L460.5,664.0 L461.0,664.1 L461.5,664.1 L462.0,664.1 L462.5,664.1" fill="none" stroke="#000" stroke-width="1.5" stroke-linejoin="round" stroke-linecap="round"/>
<path d="M398.8,637.5 L399.7,637.5 L400.9,664.4 L398.8,664.4 Z" fill="#000"/>
<line x1="399.0" y1="612.3" x2="399.0" y2="665.0" stroke="#3a3a3a" stroke-width="1.3" />
<line x1="398.5" y1="664.9" x2="501.0" y2="664.9" stroke="#1c1c1c" stroke-width="1.5" />
<line x1="396.2" y1="612.3" x2="399.0" y2="612.3" stroke="#3a3a3a" stroke-width="1.0" />
<line x1="396.2" y1="625.3" x2="399.0" y2="625.3" stroke="#3a3a3a" stroke-width="1.0" />
<line x1="396.2" y1="638.3" x2="399.0" y2="638.3" stroke="#3a3a3a" stroke-width="1.0" />
<line x1="396.2" y1="651.4" x2="399.0" y2="651.4" stroke="#3a3a3a" stroke-width="1.0" />
<line x1="396.2" y1="664.4" x2="399.0" y2="664.4" stroke="#3a3a3a" stroke-width="1.0" />
<line x1="399.0" y1="664.4" x2="399.0" y2="667.6" stroke="#444" stroke-width="0.7" />
<line x1="406.7" y1="664.4" x2="406.7" y2="666.4" stroke="#444" stroke-width="0.7" />
<line x1="411.2" y1="664.4" x2="411.2" y2="666.4" stroke="#444" stroke-width="0.7" />
<line x1="414.4" y1="664.4" x2="414.4" y2="666.4" stroke="#444" stroke-width="0.7" />
<line x1="416.8" y1="664.4" x2="416.8" y2="666.4" stroke="#444" stroke-width="0.7" />
<line x1="418.8" y1="664.4" x2="418.8" y2="666.4" stroke="#444" stroke-width="0.7" />
<line x1="420.6" y1="664.4" x2="420.6" y2="666.4" stroke="#444" stroke-width="0.7" />
<line x1="422.0" y1="664.4" x2="422.0" y2="666.4" stroke="#444" stroke-width="0.7" />
<line x1="423.3" y1="664.4" x2="423.3" y2="666.4" stroke="#444" stroke-width="0.7" />
<line x1="424.5" y1="664.4" x2="424.5" y2="667.6" stroke="#444" stroke-width="0.7" />
<line x1="432.2" y1="664.4" x2="432.2" y2="666.4" stroke="#444" stroke-width="0.7" />
<line x1="436.7" y1="664.4" x2="436.7" y2="666.4" stroke="#444" stroke-width="0.7" />
<line x1="439.9" y1="664.4" x2="439.9" y2="666.4" stroke="#444" stroke-width="0.7" />
<line x1="442.3" y1="664.4" x2="442.3" y2="666.4" stroke="#444" stroke-width="0.7" />
<line x1="444.3" y1="664.4" x2="444.3" y2="666.4" stroke="#444" stroke-width="0.7" />
<line x1="446.1" y1="664.4" x2="446.1" y2="666.4" stroke="#444" stroke-width="0.7" />
<line x1="447.5" y1="664.4" x2="447.5" y2="666.4" stroke="#444" stroke-width="0.7" />
<line x1="448.8" y1="664.4" x2="448.8" y2="666.4" stroke="#444" stroke-width="0.7" />
<line x1="450.0" y1="664.4" x2="450.0" y2="667.6" stroke="#444" stroke-width="0.7" />
<line x1="457.7" y1="664.4" x2="457.7" y2="666.4" stroke="#444" stroke-width="0.7" />
<line x1="462.2" y1="664.4" x2="462.2" y2="666.4" stroke="#444" stroke-width="0.7" />
<line x1="465.4" y1="664.4" x2="465.4" y2="666.4" stroke="#444" stroke-width="0.7" />
<line x1="467.8" y1="664.4" x2="467.8" y2="666.4" stroke="#444" stroke-width="0.7" />
<line x1="469.8" y1="664.4" x2="469.8" y2="666.4" stroke="#444" stroke-width="0.7" />
<line x1="471.6" y1="664.4" x2="471.6" y2="666.4" stroke="#444" stroke-width="0.7" />
<line x1="473.0" y1="664.4" x2="473.0" y2="666.4" stroke="#444" stroke-width="0.7" />
<line x1="474.3" y1="664.4" x2="474.3" y2="666.4" stroke="#444" stroke-width="0.7" />
<line x1="475.5" y1="664.4" x2="475.5" y2="667.6" stroke="#444" stroke-width="0.7" />
<line x1="483.2" y1="664.4" x2="483.2" y2="666.4" stroke="#444" stroke-width="0.7" />
<line x1="487.7" y1="664.4" x2="487.7" y2="666.4" stroke="#444" stroke-width="0.7" />
<line x1="490.9" y1="664.4" x2="490.9" y2="666.4" stroke="#444" stroke-width="0.7" />
<line x1="493.3" y1="664.4" x2="493.3" y2="666.4" stroke="#444" stroke-width="0.7" />
<line x1="495.3" y1="664.4" x2="495.3" y2="666.4" stroke="#444" stroke-width="0.7" />
<line x1="497.1" y1="664.4" x2="497.1" y2="666.4" stroke="#444" stroke-width="0.7" />
<line x1="498.5" y1="664.4" x2="498.5" y2="666.4" stroke="#444" stroke-width="0.7" />
<line x1="499.8" y1="664.4" x2="499.8" y2="666.4" stroke="#444" stroke-width="0.7" />
<line x1="501.0" y1="664.4" x2="501.0" y2="667.6" stroke="#444" stroke-width="0.7" />
<text transform="translate(393.4,674.6) scale(1.35,1)" font-size="7.8" fill="#262626" stroke="#262626" stroke-width="0.4">10<tspan dx="0.9" dy="-2.7" font-size="5.0">0</tspan></text>
<text transform="translate(418.9,674.6) scale(1.35,1)" font-size="7.8" fill="#262626" stroke="#262626" stroke-width="0.4">10<tspan dx="0.9" dy="-2.7" font-size="5.0">1</tspan></text>
<text transform="translate(444.4,674.6) scale(1.35,1)" font-size="7.8" fill="#262626" stroke="#262626" stroke-width="0.4">10<tspan dx="0.9" dy="-2.7" font-size="5.0">2</tspan></text>
<text transform="translate(469.9,674.6) scale(1.35,1)" font-size="7.8" fill="#262626" stroke="#262626" stroke-width="0.4">10<tspan dx="0.9" dy="-2.7" font-size="5.0">3</tspan></text>
<text transform="translate(495.4,674.6) scale(1.35,1)" font-size="7.8" fill="#262626" stroke="#262626" stroke-width="0.4">10<tspan dx="0.9" dy="-2.7" font-size="5.0">4</tspan></text>
<text transform="translate(442.4,684.9) scale(1.2,1)" font-size="7.6" fill="#262626" stroke="#262626" stroke-width="0.4">PE</text>
<text transform="translate(393.7,618.2) rotate(-90) scale(0.66,1)" font-size="11.5" fill="#262626" stroke="#262626" stroke-width="0.4">128</text>
<text transform="translate(393.7,667.1) rotate(-90) scale(0.66,1)" font-size="11.5" fill="#262626" stroke="#262626" stroke-width="0.4">0</text>
<text transform="translate(384.4,652.3) rotate(-90) scale(0.73,1)" font-size="11.6" fill="#262626" stroke="#262626" stroke-width="0.4">Events</text>
<text x="463.5" y="640.3" font-size="15.4" fill="#111" stroke="#111" stroke-width="0.3" >24</text>
</g>
</svg>
</body>
</html>
